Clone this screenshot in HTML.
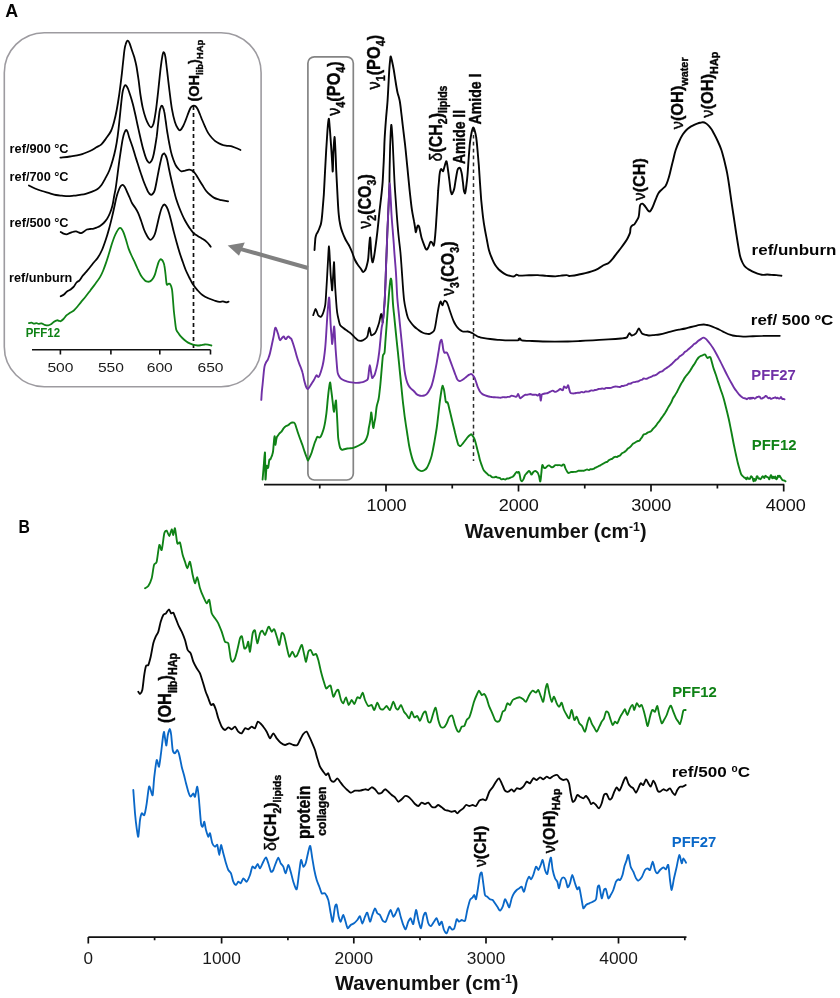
<!DOCTYPE html>
<html><head><meta charset="utf-8"><title>Spectra</title>
<style>
html,body{margin:0;padding:0;background:#fff;}
body{width:840px;height:998px;overflow:hidden;font-family:"Liberation Sans",sans-serif;}
svg{display:block;filter:blur(0.45px);}
svg text{font-family:"Liberation Sans",sans-serif;}
</style></head><body>
<svg width="840" height="998" viewBox="0 0 840 998">
<rect x="0" y="0" width="840" height="998" fill="#ffffff"/>
<rect x="4.3" y="32.7" width="256.8" height="354" rx="40" ry="40" fill="#fff" stroke="#9d9ba0" stroke-width="1.6"/>
<path d="M308 268 L240 248.8" stroke="#808080" stroke-width="4" fill="none"/>
<path d="M227.7 245.4 L244.8 242.4 L239.0 255.8 Z" fill="#808080"/>
<rect x="307.9" y="56.8" width="45.4" height="423.2" rx="6.5" ry="6.5" fill="none" stroke="#848484" stroke-width="1.7"/>
<path d="M193.5 106 L193.5 349" stroke="#111" stroke-width="1.7" stroke-dasharray="4 3" fill="none"/>
<path d="M473.5 128 L473.5 461" stroke="#2a2a2a" stroke-width="1.5" stroke-dasharray="3.7 3.2" fill="none"/>
<path d="M28.9 323.1C29.3 323.0 30.6 322.6 31.5 322.7C32.4 322.8 33.2 323.6 34.0 323.7C34.8 323.8 35.7 323.1 36.5 323.1C37.3 323.1 37.8 323.8 38.6 323.8C39.4 323.9 40.5 323.2 41.5 323.4C42.5 323.6 43.4 324.5 44.5 324.8C45.6 325.1 47.1 325.5 48.2 325.4C49.3 325.3 50.0 324.9 51.0 324.3C52.0 323.7 53.0 322.5 54.0 321.8C55.0 321.1 56.2 320.5 57.0 320.3C57.8 320.1 58.4 320.7 59.0 320.8C59.6 320.9 60.0 321.5 60.7 321.2C61.5 320.9 62.5 320.0 63.5 319.0C64.5 318.0 65.6 316.2 66.7 315.2C67.8 314.2 68.8 313.6 70.0 312.8C71.2 312.0 72.5 311.6 73.8 310.5C75.0 309.4 76.3 307.9 77.5 306.5C78.7 305.1 79.6 303.8 81.0 302.1C82.4 300.4 84.1 298.5 85.7 296.5C87.3 294.5 88.9 292.3 90.5 290.2C92.1 288.1 93.6 286.2 95.2 284.0C96.8 281.8 98.7 279.3 100.0 277.1C101.3 274.9 102.0 273.4 103.0 271.0C104.0 268.6 105.0 265.8 106.0 262.9C107.0 260.0 108.0 256.7 109.0 253.5C110.0 250.3 111.0 246.6 111.9 243.8C112.8 241.1 113.5 239.0 114.3 237.0C115.1 235.0 116.0 233.2 116.7 231.9C117.4 230.6 117.9 229.7 118.5 229.0C119.1 228.3 119.6 227.8 120.2 227.9C120.8 228.0 121.4 228.6 122.0 229.5C122.6 230.4 123.1 231.3 123.8 233.1C124.5 234.9 125.4 237.9 126.2 240.5C127.0 243.1 127.7 246.1 128.6 248.6C129.5 251.1 130.5 253.3 131.5 255.5C132.5 257.7 133.5 259.5 134.5 261.7C135.5 263.9 136.5 266.3 137.5 268.5C138.5 270.7 139.6 273.2 140.5 274.8C141.4 276.4 142.1 277.3 142.9 278.3C143.7 279.3 144.4 280.1 145.2 280.7C146.0 281.3 146.8 281.6 147.6 281.7C148.4 281.8 149.2 281.8 150.0 281.4C150.8 281.0 151.6 280.4 152.4 279.3C153.2 278.2 154.1 276.6 154.8 274.8C155.5 273.0 156.0 270.5 156.6 268.5C157.2 266.5 157.8 264.3 158.3 262.9C158.8 261.5 159.3 260.6 159.8 260.0C160.3 259.4 160.7 259.1 161.2 259.3C161.7 259.5 162.3 260.0 162.8 261.0C163.3 262.0 163.9 263.0 164.3 265.2C164.8 267.4 165.1 270.8 165.5 274.0C165.9 277.2 166.2 282.7 166.7 284.3C167.2 285.9 167.8 283.8 168.4 283.8C169.0 283.8 169.6 283.4 170.2 284.3C170.8 285.2 171.4 286.6 171.9 289.0C172.4 291.4 172.6 295.4 172.9 299.0C173.2 302.6 173.5 306.8 173.8 310.5C174.2 314.2 174.6 317.8 175.0 321.0C175.4 324.2 175.6 327.4 176.2 329.5C176.8 331.6 177.8 332.3 178.6 333.5C179.4 334.7 180.0 335.6 181.0 336.7C182.0 337.8 183.3 339.0 184.5 340.0C185.7 341.0 186.7 341.8 188.1 342.6C189.5 343.4 191.3 344.1 192.9 344.6C194.5 345.1 196.2 345.4 197.6 345.5C199.0 345.6 200.0 345.3 201.2 345.1C202.4 344.9 203.7 344.6 204.8 344.5C205.9 344.4 206.9 344.5 208.0 344.7C209.1 344.9 210.8 345.4 211.4 345.5" fill="none" stroke="#0f8216" stroke-width="1.8" stroke-linejoin="round" stroke-linecap="round" />
<path d="M60.7 296.2C61.2 295.9 63.0 295.3 64.0 294.5C65.0 293.7 65.9 292.3 67.0 291.5C68.1 290.7 69.4 290.3 70.5 289.5C71.6 288.7 72.8 287.9 73.8 286.7C74.8 285.5 75.5 283.6 76.5 282.5C77.5 281.4 78.5 281.4 79.5 280.3C80.5 279.2 81.5 277.3 82.5 276.0C83.5 274.7 84.6 273.6 85.7 272.4C86.8 271.1 88.0 269.7 89.0 268.5C90.0 267.3 90.7 266.5 91.6 265.3C92.5 264.1 93.6 262.7 94.6 261.5C95.6 260.3 96.4 260.0 97.6 258.1C98.8 256.2 100.6 253.2 102.0 250.0C103.4 246.8 104.8 242.5 106.0 239.0C107.2 235.5 108.0 232.6 109.0 229.0C110.0 225.4 111.0 221.3 111.9 217.6C112.8 213.9 113.5 210.6 114.3 207.0C115.1 203.4 115.9 199.1 116.7 196.2C117.5 193.3 118.3 191.2 119.0 189.5C119.7 187.8 120.2 186.8 120.8 186.0C121.4 185.2 122.0 184.7 122.6 184.8C123.2 184.9 123.9 185.7 124.5 186.5C125.1 187.3 125.7 188.8 126.2 189.8C126.7 190.8 126.8 191.2 127.4 192.6C128.0 194.0 129.0 196.2 129.8 198.0C130.6 199.8 131.2 201.7 132.1 203.3C133.0 204.9 134.0 205.9 135.0 207.5C136.0 209.1 137.1 210.7 138.1 212.9C139.1 215.1 140.0 217.7 141.0 220.5C142.0 223.3 143.0 226.9 144.0 229.5C145.0 232.1 146.0 234.1 147.0 235.8C148.0 237.5 149.1 239.4 150.0 239.8C150.9 240.2 151.6 239.4 152.4 238.5C153.2 237.6 154.0 236.5 154.8 234.3C155.6 232.1 156.3 228.7 157.1 225.5C157.9 222.3 158.7 218.2 159.5 215.2C160.3 212.2 161.1 209.3 161.9 207.5C162.7 205.7 163.5 204.6 164.3 204.5C165.1 204.4 165.9 205.6 166.7 207.0C167.5 208.4 168.2 210.4 169.0 212.9C169.8 215.4 170.6 218.8 171.4 222.0C172.2 225.2 172.9 228.4 173.8 231.9C174.7 235.4 175.8 239.4 176.8 243.0C177.8 246.6 178.8 250.1 179.8 253.3C180.8 256.5 181.8 259.2 182.8 262.0C183.8 264.8 184.6 267.4 185.7 270.0C186.8 272.6 188.1 275.1 189.3 277.5C190.5 279.9 191.5 282.2 192.9 284.3C194.3 286.4 196.0 288.5 197.6 290.3C199.2 292.1 200.6 293.7 202.4 295.0C204.2 296.3 206.3 297.4 208.3 298.3C210.3 299.2 212.4 299.9 214.3 300.5C216.2 301.1 218.1 301.8 219.5 301.9C220.9 302.0 221.9 301.2 223.0 301.3C224.1 301.4 225.1 302.2 226.0 302.3C226.9 302.4 228.2 301.8 228.6 301.7" fill="none" stroke="#050505" stroke-width="1.8" stroke-linejoin="round" stroke-linecap="round" />
<path d="M60.7 231.9C61.2 232.2 62.5 233.2 63.5 233.6C64.5 234.0 65.8 234.3 66.7 234.3C67.6 234.3 68.2 233.7 69.0 233.4C69.8 233.1 70.6 232.7 71.4 232.4C72.2 232.1 73.2 231.8 74.0 231.6C74.8 231.4 75.4 231.3 76.2 231.4C77.0 231.5 77.8 232.1 78.6 232.4C79.4 232.7 80.1 233.2 81.0 233.1C81.9 232.9 83.0 232.1 84.0 231.5C85.0 230.9 85.9 229.9 86.9 229.5C87.9 229.1 89.0 229.1 90.0 229.0C91.0 228.9 91.8 229.0 92.9 228.8C94.0 228.6 95.3 228.1 96.5 227.6C97.7 227.1 98.8 226.8 100.0 226.0C101.2 225.2 102.5 224.2 103.7 223.0C104.9 221.8 106.0 220.5 107.1 218.8C108.1 217.1 109.1 215.2 110.0 213.0C110.9 210.8 111.7 208.4 112.4 205.7C113.1 203.0 113.5 199.9 114.0 197.0C114.5 194.1 115.1 191.9 115.7 188.1C116.3 184.3 117.0 178.8 117.6 174.0C118.2 169.2 118.9 163.8 119.5 159.5C120.1 155.2 120.7 151.5 121.2 148.0C121.8 144.5 122.2 141.2 122.8 138.6C123.3 136.0 123.9 133.9 124.5 132.5C125.1 131.1 125.7 130.1 126.2 130.0C126.7 129.9 127.1 130.9 127.6 132.0C128.1 133.1 128.4 134.9 129.0 136.7C129.6 138.4 130.3 140.6 131.0 142.5C131.7 144.4 132.2 145.9 132.9 148.1C133.6 150.3 134.4 153.2 135.2 155.7C136.0 158.2 136.7 160.6 137.6 163.3C138.5 166.0 139.4 169.1 140.4 172.0C141.4 174.9 142.4 178.1 143.3 180.5C144.2 182.9 144.9 184.6 145.7 186.5C146.5 188.4 147.4 190.7 148.1 191.9C148.8 193.2 149.3 193.5 149.8 194.0C150.3 194.5 150.8 194.9 151.3 194.8C151.9 194.7 152.5 194.2 153.1 193.4C153.7 192.6 154.2 192.1 154.8 190.0C155.4 187.9 156.1 184.2 156.7 181.0C157.3 177.8 158.0 174.0 158.6 171.0C159.2 168.0 159.7 165.4 160.3 162.8C160.9 160.2 161.5 157.2 162.0 155.7C162.5 154.2 162.8 154.4 163.2 154.0C163.6 153.6 163.9 153.2 164.3 153.4C164.7 153.7 165.2 154.5 165.7 155.5C166.2 156.5 166.5 157.2 167.1 159.5C167.7 161.8 168.3 165.6 169.0 169.0C169.7 172.4 170.6 176.5 171.4 180.0C172.2 183.5 173.0 186.8 173.8 190.0C174.6 193.2 175.3 196.2 176.2 199.0C177.1 201.8 178.0 204.4 179.0 207.0C180.0 209.6 181.1 212.2 182.1 214.5C183.1 216.8 184.0 218.6 185.0 220.5C186.0 222.4 187.2 224.3 188.1 225.8C189.0 227.3 189.7 228.2 190.5 229.3C191.3 230.4 192.0 231.5 192.9 232.4C193.8 233.3 194.8 234.1 195.8 234.8C196.8 235.5 197.8 236.1 198.8 236.7C199.8 237.3 200.8 237.8 201.8 238.4C202.8 239.0 203.8 239.4 204.8 240.2C205.8 241.0 206.8 241.9 207.8 243.0C208.8 244.1 210.2 246.1 210.7 246.7" fill="none" stroke="#050505" stroke-width="1.8" stroke-linejoin="round" stroke-linecap="round" />
<path d="M28.9 185.5C29.9 186.0 32.8 187.6 35.0 188.5C37.2 189.4 39.5 190.2 42.0 191.0C44.5 191.8 47.7 192.6 50.0 193.3C52.3 194.0 54.0 194.6 56.0 195.0C58.0 195.4 59.9 195.5 61.9 195.7C63.9 195.9 66.0 196.2 68.0 196.2C70.0 196.2 71.8 195.9 73.8 195.7C75.8 195.5 78.0 195.1 80.0 194.8C82.0 194.5 83.8 194.3 85.7 193.8C87.6 193.3 89.5 192.7 91.5 191.9C93.5 191.1 95.9 190.2 97.6 189.0C99.3 187.8 100.2 186.7 101.5 185.0C102.8 183.3 103.9 181.0 105.2 178.6C106.5 176.2 108.0 173.7 109.3 170.5C110.6 167.3 111.9 163.1 112.9 159.5C113.9 155.9 114.7 152.8 115.5 149.0C116.3 145.2 117.0 141.2 117.6 136.7C118.2 132.2 118.8 127.1 119.3 122.0C119.8 116.9 120.5 110.2 120.9 106.2C121.3 102.2 121.5 100.5 121.8 98.0C122.1 95.5 122.4 92.8 122.8 91.0C123.2 89.2 123.6 88.0 124.0 87.0C124.4 86.0 124.8 85.3 125.2 85.2C125.7 85.1 126.2 85.7 126.7 86.3C127.2 86.9 127.5 87.4 128.1 89.0C128.7 90.6 129.7 93.5 130.5 96.0C131.3 98.5 132.1 101.2 132.9 104.3C133.7 107.4 134.5 111.0 135.3 114.5C136.1 118.0 136.8 121.6 137.6 125.2C138.4 128.8 139.2 132.5 140.0 136.0C140.8 139.5 141.7 143.4 142.4 146.2C143.1 149.0 143.7 150.9 144.3 153.0C144.9 155.1 145.6 157.2 146.2 158.6C146.8 160.0 147.3 160.8 147.8 161.5C148.3 162.2 148.8 162.8 149.4 162.8C150.0 162.8 150.6 162.2 151.2 161.3C151.8 160.4 152.3 159.7 152.9 157.6C153.5 155.5 154.2 152.0 154.8 148.5C155.4 145.0 156.1 140.8 156.7 136.7C157.2 132.6 157.6 128.1 158.1 124.0C158.6 119.9 159.1 114.7 159.5 111.9C159.9 109.1 160.3 108.3 160.7 107.3C161.1 106.2 161.4 105.6 161.8 105.6C162.2 105.6 162.6 106.2 163.0 107.3C163.4 108.3 163.9 109.6 164.3 111.9C164.8 114.2 165.2 117.8 165.7 121.0C166.2 124.2 166.5 127.5 167.1 131.0C167.7 134.5 168.3 138.5 169.0 142.0C169.7 145.5 170.3 149.0 171.0 151.9C171.7 154.8 172.5 157.3 173.3 159.5C174.1 161.7 174.8 163.6 175.7 165.2C176.6 166.8 177.6 168.0 178.5 169.0C179.4 170.0 180.3 171.0 181.4 171.3C182.5 171.6 183.9 170.9 185.2 170.6C186.5 170.3 187.9 169.7 189.0 169.6C190.1 169.5 190.7 169.8 191.5 170.2C192.3 170.6 192.9 171.0 193.8 171.9C194.7 172.8 195.8 174.3 196.7 175.7C197.6 177.1 198.5 178.8 199.5 180.5C200.5 182.2 201.7 184.1 202.8 185.8C203.9 187.6 205.0 189.5 206.2 191.0C207.4 192.5 208.7 193.7 210.0 194.8C211.3 195.9 212.5 196.9 213.8 197.6C215.1 198.3 216.3 198.8 217.6 199.2C218.9 199.6 219.7 199.7 221.4 200.1C223.2 200.5 227.0 201.2 228.1 201.4" fill="none" stroke="#050505" stroke-width="1.8" stroke-linejoin="round" stroke-linecap="round" />
<path d="M60.4 157.6C62.0 157.4 66.7 157.0 70.0 156.5C73.3 156.0 77.1 155.6 80.4 154.7C83.7 153.8 87.3 152.2 90.0 151.0C92.7 149.8 94.5 148.4 96.4 147.3C98.3 146.2 99.8 145.8 101.4 144.3C103.0 142.8 104.4 140.7 106.0 138.5C107.6 136.3 109.7 133.8 111.0 131.0C112.3 128.2 113.0 125.5 114.0 122.0C115.0 118.5 115.9 114.3 116.7 110.0C117.5 105.7 118.2 101.4 119.0 96.0C119.8 90.6 120.7 83.1 121.4 77.6C122.1 72.1 122.5 67.4 123.0 63.0C123.5 58.6 123.9 54.1 124.3 51.0C124.7 47.9 125.0 46.2 125.6 44.5C126.1 42.8 126.9 40.8 127.6 40.6C128.3 40.4 128.9 41.6 129.6 43.3C130.3 44.9 131.2 48.1 132.0 50.5C132.8 52.9 133.7 55.0 134.4 57.6C135.1 60.2 135.7 62.2 136.4 66.0C137.1 69.8 137.9 75.5 138.6 80.2C139.3 85.0 139.7 89.9 140.4 94.5C141.1 99.1 141.8 103.6 142.7 107.6C143.6 111.6 144.7 115.4 145.7 118.3C146.7 121.2 147.8 123.4 148.7 124.9C149.6 126.4 150.3 127.5 151.1 127.3C151.9 127.1 152.7 126.4 153.5 123.7C154.3 121.0 155.0 116.7 155.8 111.2C156.6 105.8 157.4 98.2 158.2 91.0C159.0 83.8 159.9 74.2 160.6 68.3C161.3 62.4 161.9 58.5 162.4 55.8C162.9 53.1 163.3 52.1 163.8 52.3C164.3 52.5 164.9 53.9 165.4 57.0C165.9 60.1 166.4 65.0 167.1 70.7C167.8 76.4 168.7 84.7 169.5 91.0C170.3 97.3 171.0 103.6 171.9 108.8C172.8 114.0 173.9 118.6 174.9 121.9C175.9 125.2 177.0 127.1 177.9 128.5C178.8 129.9 179.3 130.6 180.2 130.2C181.1 129.8 182.4 127.5 183.2 126.0C184.0 124.5 184.5 123.2 185.2 121.4C185.9 119.6 186.8 117.1 187.6 115.0C188.4 112.9 189.3 110.5 190.0 109.0C190.7 107.5 191.4 106.9 192.0 106.3C192.6 105.7 193.2 105.6 193.8 105.6C194.4 105.6 195.2 105.9 195.8 106.5C196.4 107.1 196.9 107.7 197.6 109.0C198.3 110.3 199.2 112.6 200.0 114.5C200.8 116.4 201.5 118.4 202.4 120.5C203.3 122.6 204.2 124.9 205.2 127.0C206.1 129.1 207.0 131.1 208.1 132.9C209.2 134.7 210.7 136.6 212.0 138.0C213.3 139.4 214.4 140.5 215.7 141.4C216.9 142.3 218.2 143.0 219.5 143.6C220.8 144.2 222.1 144.8 223.3 145.2C224.6 145.6 225.7 145.6 227.0 145.8C228.3 146.0 229.5 145.8 231.0 146.2C232.5 146.6 234.4 147.4 236.0 148.0C237.6 148.6 239.8 149.7 240.5 150.0" fill="none" stroke="#050505" stroke-width="1.8" stroke-linejoin="round" stroke-linecap="round" />
<path d="M32 349.8 H210.5 M60.4 349.8 V354.6 M110.9 349.8 V354.6 M159.8 349.8 V354.6 M210.5 349.8 V354.6" stroke="#111" stroke-width="1.6" fill="none"/>
<text x="60.4" y="372.2" font-size="13.5" fill="#1a1a1a"  text-anchor="middle" textLength="26.0" lengthAdjust="spacingAndGlyphs">500</text>
<text x="110.9" y="372.2" font-size="13.5" fill="#1a1a1a"  text-anchor="middle" textLength="26.0" lengthAdjust="spacingAndGlyphs">550</text>
<text x="159.8" y="372.2" font-size="13.5" fill="#1a1a1a"  text-anchor="middle" textLength="26.0" lengthAdjust="spacingAndGlyphs">600</text>
<text x="210.5" y="372.2" font-size="13.5" fill="#1a1a1a"  text-anchor="middle" textLength="26.0" lengthAdjust="spacingAndGlyphs">650</text>
<text x="9.6" y="152.8" font-size="12.3" fill="#050505" font-weight="bold" text-anchor="start" textLength="59.0" lengthAdjust="spacingAndGlyphs">ref/900 &#176;C</text>
<text x="9.6" y="180.8" font-size="12.3" fill="#050505" font-weight="bold" text-anchor="start" textLength="59.0" lengthAdjust="spacingAndGlyphs">ref/700 &#176;C</text>
<text x="9.6" y="226.8" font-size="12.3" fill="#050505" font-weight="bold" text-anchor="start" textLength="59.0" lengthAdjust="spacingAndGlyphs">ref/500 &#176;C</text>
<text x="9.0" y="281.7" font-size="12.3" fill="#050505" font-weight="bold" text-anchor="start" textLength="63.3" lengthAdjust="spacingAndGlyphs">ref/unburn</text>
<text x="25.7" y="336.6" font-size="12" fill="#0f8216" font-weight="bold" text-anchor="start" textLength="34.4" lengthAdjust="spacingAndGlyphs">PFF12</text>
<path d="M262.6 479.5C262.8 477.5 263.2 472.1 263.6 467.6C264.0 463.1 264.6 452.8 264.9 452.4C265.2 452.0 265.1 460.5 265.2 465.0C265.3 469.5 265.3 478.5 265.5 479.5C265.7 480.5 266.0 473.3 266.2 471.0C266.4 468.7 266.6 466.2 266.8 465.7C267.0 465.2 267.4 467.7 267.6 467.9C267.9 468.1 268.0 468.3 268.3 467.0C268.6 465.7 269.0 461.2 269.3 460.0C269.6 458.8 270.0 459.9 270.3 459.5C270.6 459.1 270.9 458.2 271.2 457.5C271.5 456.8 271.9 456.1 272.2 455.0C272.5 453.9 272.8 453.2 273.1 451.0C273.4 448.8 273.6 444.5 273.9 442.0C274.1 439.5 274.4 436.4 274.6 436.2C274.8 436.0 275.0 439.6 275.1 441.0C275.2 442.4 275.3 445.0 275.5 444.8C275.7 444.6 276.0 441.3 276.2 440.0C276.4 438.7 276.7 437.8 276.9 437.1C277.1 436.4 277.2 436.6 277.6 436.0C278.0 435.4 278.9 434.0 279.5 433.3C280.1 432.6 280.7 432.6 281.3 431.8C281.9 431.1 282.6 429.8 283.2 428.9C283.8 428.1 284.5 427.3 285.1 426.8C285.7 426.2 286.4 426.0 287.0 425.7C287.6 425.3 288.2 425.2 288.8 424.7C289.4 424.2 290.1 423.3 290.7 423.0C291.3 422.6 292.1 422.5 292.6 422.4C293.1 422.4 293.5 422.4 293.9 422.6C294.3 422.9 294.6 422.8 295.1 424.0C295.6 425.2 296.4 427.9 297.0 429.8C297.6 431.8 298.3 433.7 298.9 435.5C299.5 437.3 300.2 439.1 300.8 440.7C301.4 442.4 302.0 443.7 302.6 445.5C303.2 447.3 303.9 449.6 304.5 451.4C305.1 453.2 305.9 455.3 306.4 456.6C306.9 457.8 307.0 458.4 307.3 459.0C307.6 459.6 307.7 460.7 308.1 460.4C308.5 460.0 309.2 458.2 309.8 457.0C310.4 455.8 310.9 454.8 311.4 453.3C311.9 451.8 312.4 449.9 313.0 448.1C313.6 446.4 314.2 444.1 314.7 442.7C315.2 441.3 315.6 440.7 316.0 439.7C316.4 438.7 316.8 437.3 317.2 436.9C317.6 436.5 318.2 437.2 318.7 437.3C319.2 437.3 319.6 437.8 320.2 437.2C320.8 436.6 321.4 435.3 322.0 433.8C322.6 432.2 323.4 430.0 323.9 428.0C324.4 426.0 324.8 424.1 325.2 421.7C325.6 419.2 326.0 416.3 326.4 413.3C326.8 410.2 327.1 406.5 327.4 403.1C327.7 399.8 328.1 396.0 328.4 393.2C328.7 390.4 329.0 388.2 329.3 386.4C329.6 384.6 329.9 382.1 330.2 382.4C330.5 382.7 330.7 386.3 331.0 388.5C331.3 390.7 331.6 392.8 331.9 395.4C332.2 398.0 332.6 401.3 332.9 404.0C333.2 406.7 333.5 411.4 333.9 411.7C334.2 411.9 334.6 407.4 335.0 405.5C335.4 403.6 335.8 400.0 336.0 400.4C336.2 400.8 336.3 405.5 336.5 408.0C336.7 410.5 336.8 412.3 337.0 415.5C337.2 418.7 337.4 423.2 337.6 427.0C337.8 430.8 337.9 435.2 338.2 438.0C338.5 440.8 338.9 442.3 339.2 444.0C339.5 445.7 339.7 447.0 340.2 448.0C340.7 449.0 341.5 449.6 342.1 449.8C342.7 450.0 343.1 449.5 344.0 449.3C344.9 449.1 346.1 448.7 347.2 448.5C348.2 448.3 349.2 448.4 350.3 448.3C351.4 448.2 352.8 448.0 354.0 447.6C355.2 447.2 356.6 446.6 357.8 446.0C359.0 445.4 360.0 444.9 361.0 444.3C362.0 443.7 363.2 443.1 364.0 442.3C364.8 441.5 365.4 440.8 366.0 439.5C366.6 438.2 367.3 436.4 367.8 434.5C368.3 432.6 368.5 429.9 368.8 428.0C369.1 426.1 369.5 424.8 369.8 423.0C370.1 421.2 370.4 419.2 370.6 417.5C370.9 415.8 371.0 412.0 371.3 412.5C371.6 413.0 372.0 417.9 372.3 420.5C372.6 423.1 373.0 427.6 373.3 428.0C373.6 428.4 374.0 424.7 374.3 423.0C374.6 421.3 374.9 420.7 375.3 418.0C375.7 415.3 376.1 410.0 376.6 407.0C377.1 404.0 378.0 402.0 378.4 400.0C378.8 398.0 378.9 397.7 379.2 395.0C379.5 392.3 380.0 388.1 380.4 384.0C380.8 379.9 381.2 374.7 381.6 370.1C382.0 365.5 382.5 359.1 382.8 356.5C383.1 353.9 383.3 355.0 383.6 354.3C383.9 353.6 384.3 354.5 384.6 352.1C384.9 349.7 385.2 344.0 385.5 340.0C385.8 336.0 386.1 332.1 386.4 328.1C386.7 324.1 387.0 320.0 387.3 316.0C387.6 312.0 387.8 308.7 388.2 304.0C388.6 299.3 389.1 291.9 389.5 288.0C389.9 284.1 390.1 282.1 390.3 280.5C390.5 278.9 390.7 278.4 390.9 278.4C391.1 278.4 391.3 278.6 391.5 280.5C391.7 282.4 391.9 286.1 392.2 290.0C392.4 293.9 392.7 299.7 393.0 304.0C393.3 308.3 393.8 312.0 394.2 316.0C394.6 320.0 395.0 324.1 395.4 328.1C395.8 332.1 396.2 336.0 396.6 340.0C397.0 344.0 397.5 348.1 397.9 352.1C398.3 356.1 398.7 360.0 399.1 364.0C399.5 368.0 399.9 372.2 400.3 376.2C400.7 380.2 401.1 384.0 401.5 388.0C401.9 392.0 402.3 396.2 402.7 400.0C403.1 403.8 403.6 407.4 404.0 411.0C404.4 414.6 404.8 417.7 405.4 421.5C405.9 425.3 406.7 430.0 407.3 434.0C407.9 438.0 408.5 442.2 409.1 445.5C409.7 448.8 410.4 451.5 411.0 454.0C411.6 456.5 412.3 458.8 412.9 460.6C413.5 462.4 414.2 463.8 414.8 465.0C415.4 466.2 416.0 467.2 416.7 468.1C417.4 469.0 418.4 469.7 419.2 470.2C420.0 470.7 420.9 471.1 421.7 471.1C422.5 471.1 423.4 470.7 424.2 470.2C425.0 469.7 425.9 469.3 426.7 468.1C427.5 466.9 428.4 465.1 429.2 463.0C430.0 460.9 430.9 458.9 431.7 455.6C432.5 452.3 433.4 447.6 434.2 443.0C435.0 438.4 436.0 432.8 436.7 428.0C437.4 423.2 437.8 418.6 438.4 414.0C438.9 409.4 439.5 404.1 440.0 400.4C440.5 396.6 440.9 393.9 441.3 391.5C441.7 389.1 442.2 386.6 442.5 385.9C442.8 385.2 443.0 386.8 443.3 387.5C443.6 388.2 443.8 388.9 444.1 390.4C444.4 391.9 444.7 394.6 445.0 396.5C445.3 398.4 445.5 400.7 445.8 401.7C446.1 402.7 446.5 402.3 446.8 402.5C447.1 402.7 447.3 401.6 447.8 402.9C448.3 404.1 449.0 407.5 449.6 410.0C450.2 412.5 450.9 415.4 451.5 418.0C452.1 420.6 452.7 423.0 453.3 425.5C453.9 428.0 454.6 430.8 455.1 433.0C455.7 435.2 456.1 437.1 456.6 439.0C457.1 440.9 457.7 443.2 458.1 444.3C458.6 445.4 458.9 445.3 459.3 445.6C459.7 445.9 460.0 446.4 460.6 446.0C461.2 445.6 462.1 444.4 462.8 443.5C463.6 442.6 464.4 441.4 465.1 440.5C465.8 439.6 466.4 438.8 467.0 438.0C467.6 437.2 468.3 436.5 468.8 436.0C469.3 435.5 469.7 435.2 470.1 434.9C470.5 434.6 470.9 434.1 471.4 434.3C471.9 434.5 472.5 435.5 473.0 436.3C473.5 437.1 474.1 437.9 474.6 439.3C475.1 440.7 475.6 442.6 476.1 444.5C476.6 446.4 477.1 448.8 477.6 450.6C478.1 452.4 478.5 453.8 478.9 455.5C479.3 457.2 479.6 458.9 480.1 460.6C480.6 462.4 481.4 464.3 482.0 466.0C482.6 467.7 483.1 469.3 483.9 470.6C484.7 471.9 486.2 472.8 487.0 473.6C487.8 474.4 488.1 474.9 488.6 475.2C489.1 475.5 489.6 475.2 490.2 475.5C490.8 475.9 491.5 476.9 492.1 477.2C492.7 477.5 493.4 477.4 494.0 477.4C494.6 477.3 495.2 476.7 495.9 476.7C496.5 476.8 497.1 477.5 497.7 477.7C498.3 477.9 499.0 477.7 499.6 477.9C500.2 478.2 500.9 479.2 501.5 479.4C502.1 479.5 502.7 479.0 503.4 479.0C504.0 479.0 504.6 479.6 505.2 479.5C505.8 479.4 506.5 478.7 507.1 478.5C507.7 478.3 508.4 478.6 509.0 478.4C509.6 478.2 510.2 477.7 510.9 477.4C511.5 477.1 512.1 477.2 512.7 476.8C513.3 476.3 514.0 475.4 514.6 474.6C515.2 473.8 516.0 472.3 516.5 472.0C517.0 471.7 517.4 472.7 517.8 472.7C518.2 472.7 518.6 471.5 519.0 472.1C519.4 472.6 519.6 474.6 519.9 475.9C520.2 477.2 520.4 478.9 520.7 479.8C521.1 480.7 521.5 481.4 522.0 481.3C522.5 481.2 523.0 480.2 523.5 479.2C524.0 478.1 524.5 476.1 525.0 475.2C525.5 474.2 526.0 474.0 526.5 473.5C527.0 472.9 527.4 472.4 527.8 472.0C528.2 471.6 528.6 470.9 529.0 471.0C529.4 471.1 529.9 471.8 530.3 472.4C530.7 473.0 531.0 474.7 531.5 474.6C532.0 474.6 532.8 472.6 533.4 472.0C534.0 471.4 534.8 471.0 535.3 470.9C535.8 470.9 536.1 471.3 536.5 471.7C536.9 472.0 537.4 472.2 537.8 472.9C538.2 473.6 538.6 474.7 539.0 476.1C539.4 477.5 539.9 481.8 540.3 481.4C540.7 480.9 541.0 476.2 541.3 473.5C541.6 470.8 541.9 466.2 542.3 465.2C542.7 464.2 543.3 467.0 543.8 467.5C544.3 468.0 544.7 468.2 545.3 468.0C545.9 467.8 546.6 466.6 547.2 466.2C547.8 465.7 548.4 465.3 549.0 465.4C549.6 465.5 550.3 466.5 550.9 466.8C551.5 467.1 552.1 467.4 552.8 467.2C553.5 466.9 554.5 465.6 555.3 465.2C556.1 464.9 557.1 465.2 557.8 465.2C558.5 465.2 559.1 465.0 559.7 465.1C560.3 465.2 561.1 465.9 561.6 465.8C562.1 465.7 562.5 464.8 562.9 464.6C563.3 464.4 563.7 464.1 564.1 464.7C564.5 465.2 564.9 467.0 565.3 468.0C565.7 469.0 566.2 469.9 566.6 470.6C567.0 471.4 567.4 472.1 567.8 472.5C568.2 472.9 568.6 473.0 569.1 472.9C569.6 472.8 570.4 472.1 571.0 472.0C571.6 471.8 572.0 472.1 572.9 472.0C573.8 471.9 575.7 471.8 576.6 471.6C577.5 471.4 577.9 470.9 578.5 470.7C579.1 470.6 579.8 470.8 580.4 470.8C581.0 470.8 581.5 470.7 582.1 470.7C582.6 470.6 583.2 470.8 583.7 470.7C584.3 470.6 584.8 470.3 585.4 470.1C586.0 469.9 586.5 469.4 587.1 469.4C587.6 469.4 588.2 470.1 588.7 470.1C589.3 470.0 589.8 469.3 590.4 469.2C591.0 469.1 591.5 469.4 592.1 469.4C592.6 469.3 593.2 469.0 593.7 468.8C594.3 468.5 594.8 468.0 595.4 467.7C596.0 467.4 596.5 467.2 597.1 466.9C597.6 466.6 598.2 466.4 598.7 466.1C599.3 465.8 599.8 465.6 600.4 465.3C601.0 465.0 601.5 464.7 602.1 464.3C602.7 464.0 603.2 463.6 603.8 463.3C604.4 462.9 604.9 462.5 605.5 462.3C606.1 462.0 606.6 462.1 607.2 461.8C607.7 461.4 608.3 460.7 608.8 460.3C609.4 459.9 609.9 459.5 610.5 459.3C611.1 459.0 611.6 459.1 612.2 458.8C612.7 458.5 613.3 457.7 613.8 457.4C614.4 457.1 615.0 456.8 615.5 456.8C616.0 456.7 616.5 457.1 617.0 457.0C617.5 456.9 618.0 456.2 618.5 456.0C619.0 455.7 619.4 456.0 620.0 455.5C620.6 455.1 621.3 453.9 622.0 453.3C622.7 452.8 623.3 452.7 624.0 452.2C624.7 451.8 625.3 451.3 626.0 450.7C626.6 450.1 627.3 449.1 627.9 448.6C628.5 448.1 629.0 447.9 629.5 447.5C630.1 447.0 630.7 446.5 631.2 445.9C631.7 445.3 632.3 444.3 632.8 443.8C633.3 443.3 633.7 443.4 634.4 443.0C635.1 442.6 636.1 441.8 637.0 441.4C637.9 441.0 638.9 440.9 639.6 440.4C640.3 439.9 640.5 439.1 641.0 438.5C641.5 437.9 641.9 437.4 642.3 436.7C642.7 436.1 643.0 435.1 643.6 434.6C644.2 434.1 645.5 434.1 646.2 433.7C646.9 433.3 647.3 432.7 647.9 432.4C648.4 432.1 649.0 432.1 649.5 431.9C650.0 431.7 650.6 431.6 651.1 431.1C651.6 430.6 652.2 429.8 652.7 429.2C653.2 428.5 653.8 428.0 654.4 427.4C654.9 426.8 655.5 426.3 656.0 425.7C656.5 425.0 657.1 424.0 657.6 423.3C658.2 422.6 658.7 422.1 659.3 421.3C659.9 420.5 660.6 419.3 661.2 418.4C661.9 417.4 662.6 416.6 663.2 415.7C663.9 414.8 664.5 413.9 665.2 412.8C665.8 411.8 666.5 410.6 667.1 409.5C667.8 408.3 668.4 407.1 669.0 406.0C669.7 404.8 670.3 404.0 671.0 402.8C671.7 401.5 672.3 399.6 673.0 398.3C673.7 397.1 674.3 396.3 675.0 395.2C675.7 394.2 676.3 393.1 677.0 391.9C677.7 390.7 678.3 389.2 679.0 387.9C679.7 386.6 680.3 385.2 681.0 384.1C681.6 382.9 682.3 382.0 682.9 381.0C683.5 380.0 684.0 378.9 684.5 378.1C685.1 377.2 685.7 376.5 686.2 375.8C686.7 375.1 687.3 374.4 687.8 373.8C688.3 373.1 688.7 372.9 689.4 371.8C690.1 370.8 691.1 368.9 692.0 367.6C692.9 366.2 693.8 364.9 694.6 363.7C695.4 362.5 695.9 361.3 696.6 360.3C697.3 359.3 697.9 358.2 698.6 357.5C699.3 356.8 700.0 356.4 700.6 356.0C701.2 355.6 702.0 355.6 702.5 355.4C703.0 355.2 703.4 354.7 703.8 354.6C704.2 354.5 704.7 354.3 705.1 354.6C705.5 354.9 706.0 355.9 706.4 356.5C706.8 357.1 707.3 357.9 707.7 358.0C708.1 358.1 708.5 357.3 709.0 357.2C709.5 357.1 709.9 356.6 710.4 357.3C710.9 358.0 711.3 360.0 711.7 361.5C712.1 363.0 712.4 364.3 713.0 366.4C713.6 368.5 714.7 371.4 715.6 374.0C716.5 376.6 717.3 379.4 718.2 382.1C719.1 384.8 719.9 387.4 720.8 390.0C721.7 392.6 722.6 394.9 723.5 397.9C724.4 400.9 725.2 404.5 726.1 408.0C727.0 411.5 727.8 414.9 728.7 418.8C729.6 422.7 730.4 427.1 731.3 431.5C732.2 435.9 733.1 441.2 733.9 445.0C734.7 448.8 735.2 451.4 735.9 454.5C736.6 457.6 737.3 460.9 737.9 463.3C738.5 465.7 739.0 467.2 739.5 469.0C740.0 470.8 740.5 472.6 741.0 473.8C741.5 475.0 742.1 475.6 742.7 476.2C743.3 476.8 744.0 477.4 744.4 477.7C744.8 478.0 745.1 477.6 745.4 477.9C745.7 478.2 746.1 479.4 746.4 479.3C746.7 479.2 747.0 477.6 747.3 477.5C747.7 477.4 748.0 478.5 748.3 478.7C748.6 478.9 748.9 478.7 749.2 478.7C749.5 478.8 749.7 479.2 750.0 478.8C750.3 478.4 750.6 476.6 750.9 476.3C751.2 476.0 751.5 476.6 751.8 476.9C752.1 477.2 752.3 477.3 752.6 478.0C752.9 478.7 753.2 481.0 753.5 481.2C753.8 481.3 754.0 479.1 754.3 479.0C754.6 478.9 754.8 480.5 755.1 480.6C755.4 480.8 755.6 480.6 755.9 479.9C756.2 479.2 756.4 477.1 756.7 476.5C757.0 475.9 757.2 476.1 757.5 476.5C757.8 476.8 758.1 478.2 758.5 478.5C758.8 478.8 759.1 478.1 759.5 478.3C759.8 478.4 760.1 479.3 760.4 479.3C760.8 479.3 761.1 478.7 761.4 478.2C761.7 477.7 762.0 476.8 762.4 476.5C762.7 476.2 763.0 476.3 763.3 476.6C763.7 476.9 764.0 478.2 764.3 478.1C764.6 478.0 765.0 476.3 765.3 475.9C765.6 475.6 765.8 476.0 766.1 476.2C766.4 476.4 766.6 476.7 766.9 476.9C767.2 477.1 767.4 477.2 767.7 477.3C768.0 477.5 768.2 477.4 768.5 477.7C768.8 478.1 769.0 479.5 769.3 479.3C769.6 479.1 769.9 477.2 770.3 476.5C770.6 475.8 770.9 474.9 771.2 475.2C771.6 475.5 771.9 478.1 772.2 478.3C772.6 478.6 772.9 476.7 773.2 476.7C773.5 476.7 773.9 478.3 774.2 478.3C774.5 478.3 774.8 476.4 775.2 476.5C775.5 476.7 775.8 478.7 776.1 479.1C776.5 479.4 776.8 479.1 777.1 478.6C777.4 478.0 777.7 476.0 778.0 475.7C778.3 475.5 778.6 476.9 778.9 476.9C779.2 477.0 779.5 475.7 779.8 475.8C780.1 475.9 780.4 477.0 780.7 477.5C781.0 478.0 781.2 478.3 781.5 478.7C781.8 479.1 782.1 479.7 782.4 480.0C782.7 480.3 783.1 480.3 783.4 480.4C783.8 480.5 784.1 480.3 784.5 480.5C784.8 480.7 785.3 481.2 785.5 481.3" fill="none" stroke="#0f8216" stroke-width="1.9" stroke-linejoin="round" stroke-linecap="round" />
<path d="M313.2 315.2C313.4 314.6 314.1 312.5 314.5 311.5C314.9 310.5 315.3 308.9 315.7 309.0C316.1 309.1 316.6 311.0 317.0 312.0C317.4 313.0 317.7 314.4 318.2 315.2C318.7 315.9 319.3 316.3 319.8 316.5C320.3 316.7 320.8 317.2 321.4 316.5C322.0 315.8 322.7 314.4 323.3 312.5C323.9 310.6 324.7 308.6 325.2 305.2C325.7 301.8 325.9 297.0 326.2 292.0C326.5 287.0 326.9 280.6 327.2 275.1C327.5 269.6 327.8 263.8 328.1 259.0C328.4 254.2 328.7 246.1 329.0 246.3C329.3 246.5 329.6 255.2 329.9 260.0C330.2 264.8 330.4 271.1 330.7 275.1C331.0 279.1 331.2 281.5 331.5 284.0C331.8 286.5 331.9 291.5 332.2 290.2C332.5 288.9 332.8 280.7 333.1 276.0C333.4 271.3 333.8 262.4 334.0 262.1C334.2 261.8 334.4 269.8 334.6 274.0C334.8 278.2 334.9 282.9 335.2 287.6C335.5 292.3 335.9 297.8 336.2 302.0C336.5 306.2 336.8 309.7 337.2 312.7C337.6 315.7 338.2 317.9 338.7 320.0C339.2 322.1 339.4 323.9 340.2 325.2C341.0 326.5 342.3 327.1 343.4 328.0C344.4 328.9 345.4 329.6 346.5 330.3C347.6 331.1 348.6 331.7 349.7 332.5C350.8 333.3 351.9 334.4 352.8 335.3C353.7 336.2 354.5 337.2 355.3 338.0C356.1 338.8 357.0 339.8 357.8 340.3C358.6 340.8 359.5 340.8 360.3 340.8C361.1 340.8 362.0 340.6 362.8 340.3C363.6 340.0 364.2 339.6 365.0 339.0C365.8 338.4 366.8 337.7 367.3 336.5C367.9 335.3 368.0 333.5 368.3 332.0C368.6 330.5 369.0 327.8 369.3 327.7C369.6 327.6 370.0 330.2 370.3 331.5C370.6 332.8 370.8 334.8 371.3 335.3C371.8 335.8 372.6 334.9 373.3 334.5C374.0 334.1 374.7 333.8 375.3 332.8C375.9 331.8 376.6 330.2 377.2 328.5C377.8 326.8 378.6 324.4 379.1 322.7C379.6 320.9 379.8 319.4 380.1 318.0C380.4 316.6 380.8 314.2 381.1 314.0C381.4 313.8 381.8 315.5 382.0 316.5C382.2 317.5 382.3 319.1 382.4 320.0C382.5 320.9 382.5 323.7 382.8 322.0C383.1 320.3 383.7 313.7 384.0 310.0C384.3 306.3 384.5 304.2 384.7 300.0C384.9 295.8 385.2 290.0 385.4 285.0C385.6 280.0 385.7 275.0 385.9 270.0C386.1 265.0 386.3 260.5 386.5 255.0C386.7 249.5 386.9 243.2 387.2 237.0C387.4 230.8 387.7 224.2 388.0 218.0C388.3 211.8 388.6 205.3 388.8 200.0C389.0 194.7 389.2 191.8 389.4 186.0C389.5 180.2 389.5 172.3 389.7 165.0C389.9 157.7 390.0 148.7 390.3 142.0C390.6 135.3 390.9 126.2 391.2 125.0C391.6 123.8 391.9 129.2 392.3 135.0C392.7 140.8 393.1 150.8 393.5 160.0C393.9 169.2 394.4 180.8 395.0 190.0C395.6 199.2 396.2 207.5 396.8 215.0C397.4 222.5 397.9 228.8 398.5 235.0C399.1 241.2 399.9 246.6 400.4 252.0C400.9 257.4 401.2 262.1 401.6 267.6C402.0 273.1 402.4 279.6 402.8 285.0C403.2 290.4 403.6 295.9 404.1 300.2C404.6 304.4 405.4 307.6 406.0 310.5C406.6 313.4 407.1 315.6 407.9 317.7C408.7 319.8 409.9 321.3 411.0 322.8C412.1 324.3 412.9 325.3 414.2 326.5C415.4 327.7 417.1 328.9 418.5 330.0C419.9 331.1 421.6 332.2 422.9 332.8C424.1 333.4 424.9 333.5 426.0 333.7C427.1 333.9 428.2 334.1 429.2 334.0C430.1 333.9 430.9 333.4 431.7 332.8C432.5 332.2 433.6 331.6 434.2 330.3C434.8 329.0 435.1 327.1 435.5 325.0C435.9 322.9 436.3 320.1 436.7 317.7C437.1 315.3 437.6 312.6 438.0 310.5C438.4 308.4 438.8 306.7 439.2 305.2C439.6 303.7 440.1 301.7 440.5 301.4C440.9 301.1 441.2 302.9 441.5 303.5C441.8 304.1 442.2 305.4 442.5 305.2C442.8 305.0 443.2 303.2 443.5 302.5C443.8 301.8 444.1 300.9 444.5 300.7C444.9 300.5 445.4 300.9 445.8 301.2C446.2 301.5 446.6 301.8 447.0 302.7C447.4 303.6 448.0 305.0 448.5 306.5C449.0 308.0 449.5 309.8 450.1 311.5C450.7 313.2 451.4 315.3 452.0 317.0C452.6 318.7 453.2 320.2 453.8 321.5C454.4 322.8 455.1 324.0 455.7 325.0C456.3 326.0 456.9 326.9 457.6 327.7C458.3 328.5 459.3 329.4 460.1 330.0C460.9 330.6 461.8 331.2 462.6 331.5C463.4 331.8 464.3 331.7 465.1 331.7C465.9 331.7 466.8 331.4 467.6 331.5C468.4 331.6 469.3 331.9 470.1 332.2C470.9 332.5 471.8 332.8 472.6 333.3C473.4 333.8 474.3 334.5 475.1 335.0C475.9 335.5 476.8 336.1 477.6 336.5C478.4 336.9 479.3 337.1 480.1 337.3C480.9 337.5 480.9 337.5 482.6 337.8C484.3 338.1 487.7 338.7 490.2 339.0C492.7 339.3 495.2 339.6 497.7 339.8C500.2 340.0 501.9 340.2 505.2 340.3C508.5 340.4 515.5 340.5 517.7 340.3C520.0 340.1 518.4 339.3 518.7 339.0C519.0 338.7 519.4 338.2 519.7 338.3C520.0 338.4 520.4 339.0 520.7 339.3C521.0 339.6 519.8 340.0 521.7 340.3C523.6 340.6 528.5 340.8 532.0 341.0C535.5 341.2 539.0 341.4 542.8 341.5C546.6 341.6 550.8 341.6 555.0 341.6C559.2 341.6 563.6 341.6 567.8 341.5C572.0 341.4 575.8 341.2 580.0 341.0C584.2 340.8 588.9 340.5 592.9 340.3C596.9 340.1 600.2 339.9 604.0 339.7C607.8 339.5 612.7 339.2 615.5 339.0C618.3 338.8 619.2 338.7 621.0 338.5C622.8 338.3 625.3 338.2 626.5 337.6C627.7 337.0 627.7 335.7 628.2 335.0C628.7 334.3 629.1 333.3 629.5 333.2C629.9 333.1 630.3 334.1 630.7 334.5C631.1 334.9 631.3 335.4 631.8 335.5C632.3 335.6 633.1 335.1 633.8 334.8C634.4 334.5 635.1 334.3 635.7 333.7C636.3 333.1 636.8 331.9 637.3 331.0C637.8 330.1 638.4 328.5 638.9 328.5C639.4 328.5 639.9 330.1 640.5 331.0C641.1 331.9 641.5 333.1 642.3 333.7C643.1 334.3 644.4 334.5 645.5 334.8C646.6 335.1 647.4 335.4 648.8 335.5C650.2 335.6 652.2 335.3 654.0 335.1C655.8 334.9 657.3 334.9 659.3 334.5C661.3 334.1 663.8 333.5 666.0 332.9C668.2 332.3 670.2 331.6 672.4 331.1C674.6 330.6 676.8 330.1 679.0 329.7C681.2 329.3 683.5 328.9 685.5 328.5C687.5 328.1 689.2 327.4 691.0 327.0C692.8 326.6 694.5 326.2 696.0 325.8C697.5 325.4 698.7 325.1 700.0 324.9C701.3 324.7 702.6 324.5 703.8 324.5C705.0 324.5 705.9 324.8 707.0 325.0C708.1 325.2 709.1 325.4 710.4 325.8C711.7 326.2 713.5 327.0 715.0 327.7C716.5 328.4 718.1 329.1 719.5 329.8C720.9 330.5 722.2 331.2 723.5 331.9C724.8 332.5 726.3 333.2 727.4 333.7C728.5 334.2 729.1 334.4 730.0 334.7C730.9 335.0 731.3 335.2 732.6 335.5C733.9 335.8 736.0 336.0 737.8 336.2C739.5 336.4 741.1 336.6 743.1 336.6C745.1 336.6 747.4 336.5 749.6 336.4C751.8 336.3 754.0 336.2 756.2 336.1C758.4 336.0 760.5 335.9 762.7 335.9C764.9 335.8 766.4 335.8 769.3 335.8C772.1 335.8 778.0 335.8 779.8 335.8" fill="none" stroke="#050505" stroke-width="1.8" stroke-linejoin="round" stroke-linecap="round" />
<path d="M261.3 399.9C261.4 398.6 261.6 394.4 261.8 392.0C262.0 389.6 262.2 388.2 262.5 385.4C262.8 382.6 263.2 378.1 263.5 375.0C263.8 371.9 264.1 368.7 264.5 366.6C264.9 364.5 265.5 363.6 266.0 362.5C266.5 361.4 267.0 361.2 267.5 360.3C268.0 359.4 268.4 358.2 268.8 357.0C269.2 355.8 269.6 355.0 270.1 352.8C270.6 350.6 271.4 346.9 272.0 344.0C272.6 341.1 273.4 337.6 273.8 335.3C274.2 333.0 274.4 331.3 274.7 330.0C275.0 328.7 275.2 327.6 275.6 327.7C276.0 327.8 276.5 329.4 276.9 330.5C277.3 331.6 277.7 332.8 278.1 334.0C278.5 335.2 278.8 336.9 279.1 338.0C279.4 339.1 279.6 340.3 280.1 340.3C280.6 340.3 281.4 338.6 282.0 338.0C282.6 337.4 283.3 336.4 283.8 336.5C284.3 336.6 284.6 338.1 285.0 338.5C285.4 338.9 285.9 339.2 286.3 339.0C286.7 338.8 287.1 337.4 287.5 337.0C287.9 336.6 288.4 336.3 288.8 336.5C289.2 336.7 289.7 337.6 290.1 338.0C290.5 338.4 290.9 338.0 291.4 339.0C291.9 340.0 292.6 342.1 293.2 344.0C293.8 345.9 294.5 348.1 295.1 350.3C295.7 352.5 296.4 354.9 297.0 357.0C297.6 359.1 298.3 361.1 298.9 362.8C299.5 364.6 300.2 365.8 300.8 367.5C301.4 369.2 302.1 370.8 302.6 372.9C303.2 375.0 303.6 377.9 304.1 380.0C304.6 382.1 305.2 384.1 305.6 385.4C306.0 386.7 306.3 387.2 306.6 387.8C306.9 388.4 307.1 389.2 307.6 389.1C308.1 389.0 308.9 387.8 309.5 387.0C310.1 386.2 310.7 385.3 311.4 384.1C312.1 382.9 313.1 381.4 313.9 380.0C314.7 378.6 315.8 376.0 316.4 375.4C317.0 374.8 317.2 376.3 317.6 376.5C318.0 376.7 318.4 377.4 318.9 376.6C319.4 375.9 320.2 373.9 320.8 372.0C321.4 370.1 322.2 367.6 322.7 365.3C323.2 363.0 323.6 360.9 324.0 358.0C324.4 355.1 324.8 351.8 325.2 347.8C325.6 343.8 325.9 339.0 326.2 334.0C326.5 329.0 326.9 322.5 327.2 317.7C327.5 312.9 327.9 308.3 328.2 305.0C328.5 301.7 328.9 296.7 329.2 297.7C329.5 298.7 329.8 306.4 330.0 311.0C330.2 315.6 330.4 321.0 330.7 325.2C330.9 329.4 331.2 332.9 331.5 336.0C331.8 339.1 331.9 344.2 332.2 344.0C332.5 343.8 332.9 337.9 333.2 335.0C333.5 332.1 333.9 326.0 334.2 326.5C334.5 327.0 334.8 334.0 335.0 338.0C335.2 342.0 335.4 346.1 335.7 350.3C336.0 354.5 336.4 359.2 336.7 363.0C337.0 366.8 337.2 370.6 337.7 372.9C338.2 375.2 339.0 376.0 339.6 377.0C340.2 378.0 340.7 378.5 341.5 379.1C342.3 379.7 343.6 380.3 344.6 380.7C345.6 381.1 346.6 381.3 347.7 381.6C348.8 381.9 350.2 382.2 351.5 382.4C352.8 382.6 354.1 382.8 355.3 382.9C356.6 382.9 357.8 382.8 359.0 382.7C360.2 382.6 361.8 382.4 362.8 382.1C363.9 381.8 364.5 381.5 365.3 381.0C366.1 380.5 367.2 380.6 367.8 379.1C368.4 377.6 368.5 374.3 368.8 372.0C369.1 369.7 369.4 365.3 369.8 365.3C370.2 365.3 370.6 369.9 371.0 372.0C371.4 374.1 371.7 377.2 372.1 377.9C372.6 378.6 373.2 376.9 373.7 376.2C374.2 375.5 374.4 375.8 375.0 373.8C375.6 371.8 376.7 367.7 377.4 364.1C378.1 360.5 378.7 356.1 379.2 352.1C379.7 348.1 380.0 344.1 380.4 340.1C380.8 336.1 381.2 331.1 381.6 328.1C382.0 325.1 382.4 325.0 382.8 322.0C383.2 319.0 383.7 313.7 384.0 310.0C384.3 306.3 384.5 304.2 384.7 300.0C384.9 295.8 385.2 290.0 385.4 285.0C385.6 280.0 385.7 275.0 385.9 270.0C386.1 265.0 386.3 260.5 386.5 255.0C386.7 249.5 386.9 243.2 387.2 237.0C387.4 230.8 387.7 224.2 388.0 218.0C388.3 211.8 388.6 205.2 388.8 200.0C389.0 194.8 389.2 189.8 389.4 187.0C389.5 184.2 389.6 183.2 389.7 183.2C389.8 183.2 389.9 183.9 390.1 187.0C390.3 190.1 390.6 197.2 390.9 202.0C391.1 206.8 391.3 211.3 391.6 216.0C391.9 220.7 392.3 225.3 392.7 230.0C393.1 234.7 393.4 239.3 393.8 244.0C394.1 248.7 394.4 253.3 394.8 258.0C395.2 262.7 395.6 267.5 395.9 272.0C396.2 276.5 396.4 280.7 396.6 285.0C396.8 289.3 396.9 292.8 397.3 298.0C397.7 303.2 398.5 310.1 399.1 316.1C399.7 322.1 400.3 328.1 400.9 334.1C401.5 340.1 402.1 346.1 402.7 352.1C403.3 358.1 403.9 365.5 404.5 370.1C405.1 374.7 405.7 377.0 406.3 379.5C406.9 382.0 407.6 383.6 408.3 385.0C409.0 386.4 409.5 387.1 410.5 388.2C411.5 389.3 413.2 390.5 414.2 391.5C415.2 392.5 415.9 393.5 416.7 394.2C417.5 394.9 418.4 395.2 419.2 395.5C420.0 395.8 420.9 395.9 421.7 395.9C422.5 395.9 423.4 395.8 424.2 395.5C425.0 395.2 425.9 395.0 426.7 394.2C427.5 393.4 428.4 392.0 429.2 390.5C430.0 389.0 430.9 387.9 431.7 385.4C432.5 382.9 433.4 379.3 434.2 375.5C435.0 371.7 436.0 366.7 436.7 362.8C437.4 358.9 437.9 355.3 438.5 352.0C439.1 348.7 439.5 344.8 440.0 342.8C440.5 340.8 441.1 339.8 441.5 339.8C441.9 339.8 442.1 341.7 442.3 343.0C442.6 344.3 442.8 346.5 443.0 347.8C443.2 349.1 443.4 350.2 443.7 351.0C443.9 351.8 444.1 352.6 444.5 352.8C444.9 353.1 445.4 352.5 445.8 352.5C446.2 352.5 446.6 352.2 447.0 352.8C447.4 353.4 448.0 354.8 448.5 356.0C449.0 357.2 449.5 358.7 450.1 360.3C450.7 361.9 451.4 363.8 452.0 365.5C452.6 367.2 453.2 368.8 453.8 370.4C454.4 372.0 454.9 373.6 455.5 375.0C456.1 376.4 456.6 378.2 457.1 379.1C457.6 380.0 458.1 380.3 458.6 380.6C459.1 380.9 459.4 381.2 460.1 381.1C460.8 381.0 461.8 380.3 462.6 379.8C463.4 379.3 464.4 378.5 465.1 377.9C465.8 377.3 466.4 376.8 467.0 376.3C467.6 375.8 468.3 375.2 468.8 374.9C469.3 374.6 469.7 374.4 470.1 374.3C470.5 374.2 470.9 373.9 471.4 374.1C471.9 374.3 472.5 374.9 473.0 375.5C473.5 376.1 474.1 376.8 474.6 377.9C475.1 379.0 475.6 380.6 476.1 382.0C476.6 383.4 477.1 385.4 477.6 386.6C478.1 387.9 478.5 388.6 478.9 389.5C479.3 390.4 479.6 391.0 480.1 391.7C480.6 392.4 481.4 393.2 482.0 393.7C482.6 394.2 483.1 394.5 483.9 394.9C484.7 395.3 485.9 395.7 487.0 396.0C488.1 396.3 489.3 396.6 490.2 396.8C491.1 396.9 491.6 397.0 492.3 397.1C493.0 397.2 493.7 397.2 494.4 397.3C495.1 397.4 495.8 397.4 496.5 397.4C497.2 397.4 497.9 397.4 498.6 397.5C499.3 397.5 499.9 397.8 500.6 397.7C501.3 397.7 502.1 397.3 502.7 397.2C503.3 397.1 503.8 397.1 504.4 397.2C504.9 397.2 505.5 397.4 506.0 397.4C506.6 397.3 507.1 397.0 507.7 396.9C508.3 396.8 508.8 397.0 509.4 396.9C509.9 396.7 510.5 396.0 511.0 395.9C511.6 395.7 512.1 395.8 512.7 395.9C513.3 396.0 514.0 396.2 514.6 396.4C515.2 396.5 516.0 396.9 516.5 396.7C517.0 396.5 517.1 395.7 517.4 395.2C517.7 394.8 517.9 393.8 518.2 394.0C518.5 394.2 518.9 395.7 519.2 396.4C519.5 397.1 519.7 398.2 520.2 398.3C520.7 398.4 521.5 397.4 522.1 396.9C522.7 396.4 523.4 395.9 524.0 395.5C524.6 395.2 525.1 394.9 525.6 394.7C526.1 394.6 526.4 395.0 527.2 394.8C528.0 394.7 529.5 394.1 530.3 394.0C531.1 394.0 531.5 394.5 532.1 394.7C532.8 394.8 533.4 394.7 534.0 394.7C534.6 394.7 535.3 394.6 535.9 394.7C536.5 394.8 537.3 395.6 537.8 395.6C538.3 395.5 538.5 394.7 538.8 394.5C539.1 394.2 539.5 393.5 539.8 394.1C540.0 394.6 540.1 396.6 540.3 397.7C540.5 398.8 540.6 400.7 540.8 400.6C541.0 400.4 541.2 397.9 541.4 396.9C541.6 395.9 541.4 395.0 542.0 394.4C542.6 393.8 544.0 393.8 545.0 393.5C546.0 393.3 546.9 393.3 547.8 393.0C548.7 392.7 549.5 392.1 550.3 391.7C551.1 391.3 552.2 390.7 552.8 390.6C553.4 390.5 553.6 391.1 554.0 391.3C554.4 391.5 554.7 392.0 555.3 391.9C555.9 391.8 557.0 391.2 557.8 390.7C558.6 390.2 559.7 389.1 560.3 389.0C560.9 388.9 561.1 389.6 561.5 389.8C561.9 390.0 562.5 390.5 562.8 390.2C563.1 390.0 563.3 388.7 563.5 388.0C563.7 387.4 563.8 386.5 564.1 386.4C564.4 386.3 564.9 387.1 565.3 387.3C565.7 387.6 566.2 388.1 566.6 387.9C567.0 387.8 567.2 386.6 567.5 386.2C567.8 385.8 568.0 384.9 568.3 385.5C568.6 386.0 568.9 388.2 569.3 389.4C569.6 390.6 569.9 392.1 570.4 392.8C570.9 393.5 571.7 393.3 572.3 393.4C572.9 393.5 573.5 393.5 574.1 393.4C574.7 393.3 575.4 393.1 576.0 393.0C576.6 392.9 577.3 392.9 577.9 392.8C578.5 392.8 579.2 392.9 579.8 392.7C580.4 392.5 581.0 391.9 581.7 391.9C582.3 391.9 582.9 392.5 583.5 392.4C584.2 392.4 584.8 391.6 585.4 391.5C586.0 391.4 586.6 391.6 587.3 391.6C587.9 391.6 588.5 391.6 589.1 391.4C589.8 391.2 590.4 390.5 591.0 390.4C591.6 390.2 592.3 390.7 592.9 390.6C593.5 390.6 594.1 390.2 594.8 390.0C595.4 389.9 596.0 390.0 596.6 389.9C597.3 389.7 597.9 389.2 598.5 389.0C599.1 388.8 599.8 389.0 600.4 388.9C601.0 388.8 601.7 388.5 602.3 388.5C602.9 388.5 603.6 389.0 604.2 388.9C604.8 388.8 605.5 388.1 606.1 387.9C606.7 387.8 607.4 388.0 608.0 388.0C608.6 388.0 609.2 388.0 609.9 388.0C610.5 387.9 611.1 387.8 611.8 387.6C612.4 387.5 613.0 387.0 613.6 386.8C614.2 386.6 614.8 386.5 615.5 386.5C616.2 386.5 617.0 386.7 617.8 386.8C618.5 386.9 619.3 387.2 620.0 387.0C620.7 386.9 621.1 386.2 621.7 386.0C622.2 385.9 622.8 386.2 623.3 386.1C623.9 386.0 624.4 385.6 625.0 385.4C625.6 385.3 626.2 385.3 626.8 385.0C627.4 384.7 628.1 383.9 628.7 383.7C629.3 383.5 629.9 383.9 630.5 383.7C631.1 383.5 631.8 382.8 632.5 382.5C633.2 382.2 633.8 382.2 634.5 382.1C635.2 381.9 635.8 381.8 636.5 381.6C637.2 381.5 637.8 381.5 638.4 381.3C639.1 381.0 639.7 380.3 640.4 380.1C641.0 379.8 641.8 379.9 642.3 379.7C642.8 379.4 643.0 378.6 643.6 378.5C644.2 378.4 645.5 379.0 646.2 378.9C646.9 378.9 647.4 378.4 648.0 378.1C648.6 377.9 649.1 377.5 649.7 377.3C650.3 377.1 650.9 377.0 651.5 376.7C652.1 376.4 652.7 375.9 653.2 375.7C653.8 375.5 654.4 375.5 655.0 375.3C655.5 375.1 656.1 374.9 656.7 374.5C657.3 374.1 657.9 373.4 658.5 373.0C659.1 372.5 659.6 372.1 660.2 371.8C660.8 371.6 661.4 371.7 662.0 371.4C662.6 371.1 663.1 370.5 663.7 370.1C664.3 369.6 664.8 369.2 665.4 368.8C666.0 368.4 666.5 368.0 667.1 367.6C667.7 367.2 668.3 366.8 668.9 366.4C669.5 365.9 670.0 365.6 670.6 365.1C671.2 364.6 671.8 363.9 672.4 363.4C673.0 362.8 673.6 362.3 674.1 361.7C674.7 361.1 675.3 360.3 675.9 359.8C676.4 359.3 677.0 359.3 677.6 358.8C678.2 358.3 678.8 357.2 679.4 356.6C680.0 356.1 680.5 355.9 681.1 355.5C681.7 355.1 682.3 354.7 682.9 354.2C683.5 353.6 684.1 352.6 684.6 352.1C685.2 351.6 685.8 351.6 686.4 351.1C686.9 350.7 687.5 350.1 688.1 349.6C688.7 349.1 689.4 348.4 690.0 347.9C690.7 347.3 691.3 346.8 692.0 346.2C692.7 345.6 693.3 344.7 694.0 344.1C694.7 343.6 695.2 343.5 696.0 342.9C696.8 342.3 697.7 341.3 698.6 340.6C699.5 340.0 700.6 339.3 701.2 338.9C701.9 338.5 702.1 338.2 702.5 338.0C702.9 337.8 703.3 337.5 703.8 337.6C704.3 337.7 705.1 338.3 705.7 338.8C706.4 339.3 706.9 339.9 707.7 340.8C708.5 341.7 709.5 343.1 710.4 344.3C711.3 345.5 712.0 346.5 713.0 348.1C714.0 349.7 715.2 351.8 716.3 353.8C717.4 355.8 718.3 357.6 719.5 359.9C720.7 362.2 722.2 365.2 723.5 367.8C724.8 370.4 726.2 373.3 727.4 375.6C728.6 377.9 729.5 379.6 730.6 381.6C731.7 383.6 732.9 385.8 733.9 387.4C734.9 389.0 735.7 390.1 736.6 391.3C737.5 392.5 738.4 393.8 739.2 394.7C740.0 395.6 740.6 396.1 741.2 396.6C741.9 397.1 742.4 397.6 743.1 397.9C743.9 398.2 745.1 398.3 745.7 398.5C746.4 398.7 746.6 399.3 747.0 399.2C747.4 399.2 747.9 398.4 748.3 398.2C748.7 398.0 748.9 397.8 749.2 397.9C749.5 398.0 749.8 398.8 750.1 398.8C750.4 398.7 750.7 397.7 751.0 397.7C751.3 397.7 751.6 398.6 752.0 398.6C752.3 398.6 752.6 397.8 753.0 397.7C753.3 397.7 753.6 397.9 753.9 398.1C754.2 398.2 754.6 398.7 754.9 398.7C755.2 398.6 755.5 398.2 755.9 398.0C756.2 397.7 756.5 397.3 756.8 397.1C757.2 397.0 757.5 397.1 757.8 397.0C758.1 396.9 758.5 396.4 758.8 396.4C759.1 396.4 759.4 396.5 759.8 396.8C760.1 397.1 760.4 398.1 760.8 398.4C761.1 398.7 761.4 398.7 761.7 398.6C762.1 398.6 762.4 398.2 762.7 398.0C763.0 397.9 763.4 397.8 763.7 397.6C764.0 397.4 764.4 397.2 764.7 396.9C765.0 396.6 765.4 396.1 765.7 396.0C766.0 395.9 766.4 396.1 766.7 396.3C767.0 396.6 767.4 397.3 767.7 397.7C768.0 398.0 768.3 398.3 768.7 398.3C769.0 398.3 769.3 397.6 769.6 397.6C770.0 397.7 770.3 398.5 770.6 398.7C770.9 398.9 771.2 398.8 771.6 398.7C771.9 398.7 772.2 398.4 772.5 398.3C772.9 398.1 773.2 398.1 773.5 397.9C773.9 397.8 774.2 397.7 774.5 397.6C774.8 397.5 775.1 397.2 775.5 397.3C775.8 397.4 776.1 398.2 776.5 398.3C776.8 398.4 777.1 397.6 777.4 397.6C777.8 397.7 778.1 398.2 778.4 398.4C778.7 398.5 779.0 398.7 779.3 398.6C779.6 398.6 779.9 398.3 780.2 398.1C780.5 397.8 780.8 396.9 781.1 397.1C781.4 397.2 781.9 398.6 782.2 398.9C782.6 399.2 783.0 398.8 783.4 398.9C783.7 399.0 784.3 399.2 784.5 399.3" fill="none" stroke="#7030a6" stroke-width="1.9" stroke-linejoin="round" stroke-linecap="round" />
<path d="M314.5 250.0C314.6 248.8 314.8 245.1 315.0 243.0C315.2 240.9 315.2 239.0 315.5 237.5C315.8 236.0 316.2 234.8 316.5 234.0C316.8 233.2 317.0 233.5 317.5 232.5C318.0 231.5 318.9 229.7 319.5 228.0C320.1 226.3 320.8 225.3 321.2 222.5C321.8 219.7 322.1 215.6 322.5 211.0C322.9 206.4 323.3 201.5 323.8 195.0C324.2 188.5 324.6 179.5 325.0 172.0C325.4 164.5 325.8 157.0 326.2 150.0C326.7 143.0 327.1 135.2 327.5 130.0C327.9 124.8 328.4 119.4 328.8 118.8C329.1 118.1 329.3 122.9 329.6 126.0C329.9 129.1 330.2 133.2 330.5 137.5C330.8 141.8 331.2 147.4 331.5 152.0C331.8 156.6 332.1 161.8 332.3 165.0C332.5 168.2 332.6 173.2 332.8 171.0C333.0 168.8 333.1 157.7 333.4 152.0C333.7 146.3 334.2 137.3 334.5 137.0C334.8 136.7 335.1 144.5 335.4 150.0C335.7 155.5 335.9 162.5 336.2 170.0C336.6 177.5 337.1 187.5 337.5 195.0C337.9 202.5 338.2 209.8 338.8 215.0C339.2 220.2 339.9 223.1 340.5 226.0C341.1 228.9 341.7 230.2 342.5 232.5C343.3 234.8 344.5 237.4 345.5 239.5C346.5 241.6 347.7 242.9 348.8 245.0C349.8 247.1 351.0 249.5 352.0 252.0C353.0 254.5 354.0 257.8 355.0 260.0C356.0 262.2 357.0 263.5 358.0 265.0C359.0 266.5 360.2 267.8 361.0 269.0C361.8 270.2 362.4 271.7 363.0 272.0C363.6 272.3 364.0 271.6 364.5 271.0C365.0 270.4 365.5 269.6 366.0 268.3C366.5 267.1 366.9 265.2 367.3 263.5C367.7 261.8 368.0 261.0 368.3 257.8C368.6 254.6 369.0 247.7 369.3 244.3C369.6 240.9 369.9 237.2 370.2 237.5C370.4 237.8 370.6 243.1 370.8 246.0C371.0 248.9 371.1 252.4 371.3 254.8C371.5 257.2 371.8 259.1 372.0 260.3C372.2 261.6 372.5 262.8 372.8 262.3C373.1 261.8 373.5 259.5 373.9 257.5C374.3 255.5 374.4 254.5 375.0 250.3C375.6 246.1 376.6 238.3 377.3 232.3C378.0 226.3 378.6 220.0 379.2 214.2C379.8 208.4 380.5 203.0 381.1 197.7C381.7 192.4 382.2 187.9 382.6 182.6C383.0 177.3 383.2 171.0 383.5 166.0C383.8 161.0 383.9 157.1 384.1 152.6C384.3 148.1 384.3 144.6 384.6 139.2C384.9 133.8 385.4 126.7 385.9 120.2C386.4 113.7 387.2 106.2 387.6 100.2C388.0 94.2 388.2 89.4 388.5 84.0C388.8 78.6 389.1 72.1 389.4 68.0C389.7 63.9 390.0 61.4 390.2 59.5C390.4 57.6 390.5 56.2 390.8 56.5C391.1 56.8 391.5 58.8 392.0 61.0C392.5 63.2 393.2 66.7 393.8 70.0C394.3 73.3 394.9 77.2 395.5 81.0C396.1 84.8 396.9 89.8 397.5 92.5C398.1 95.2 398.4 95.3 398.8 97.0C399.2 98.7 399.6 99.8 400.0 102.5C400.4 105.2 400.9 109.2 401.3 113.0C401.8 116.8 402.1 119.7 402.7 125.0C403.3 130.3 404.3 137.9 405.1 145.0C405.9 152.1 406.6 160.1 407.4 167.6C408.1 175.1 408.9 183.2 409.6 190.2C410.4 197.2 411.1 204.4 411.9 209.7C412.6 214.9 413.6 218.6 414.1 221.7C414.7 224.8 414.9 226.7 415.2 228.5C415.5 230.3 415.6 232.4 415.9 232.3C416.2 232.2 416.6 229.1 416.9 228.0C417.2 226.9 417.6 225.8 417.9 225.5C418.2 225.2 418.4 225.6 418.7 226.0C418.9 226.4 419.1 226.5 419.4 227.7C419.7 228.9 420.1 231.2 420.5 233.0C420.9 234.8 421.1 236.4 421.7 238.3C422.3 240.2 423.1 242.4 423.9 244.3C424.6 246.2 425.4 249.0 426.2 249.5C426.9 250.0 427.7 248.6 428.4 247.3C429.1 246.1 429.8 242.8 430.4 242.0C431.0 241.2 431.6 242.2 432.2 242.8C432.8 243.4 433.3 245.9 433.7 245.8C434.1 245.7 434.2 243.8 434.5 242.0C434.8 240.2 434.9 238.1 435.2 235.3C435.4 232.5 435.8 228.5 436.0 225.0C436.2 221.5 436.4 218.0 436.7 214.2C436.9 210.4 437.2 206.0 437.5 202.0C437.8 198.0 437.9 193.7 438.2 190.2C438.4 186.7 438.8 183.8 439.0 181.0C439.2 178.2 439.4 175.4 439.7 173.6C439.9 171.8 440.2 170.8 440.5 170.0C440.8 169.2 440.9 168.9 441.2 169.0C441.6 169.1 442.0 170.2 442.3 170.5C442.6 170.8 442.9 171.8 443.2 171.0C443.6 170.2 444.2 167.6 444.7 166.0C445.2 164.4 445.8 161.5 446.2 161.2C446.7 161.0 446.9 163.0 447.2 164.5C447.5 166.0 447.6 167.4 448.0 170.0C448.4 172.6 448.9 176.7 449.3 180.0C449.7 183.3 450.2 187.8 450.5 190.0C450.8 192.2 451.1 192.3 451.3 193.0C451.6 193.7 451.7 194.5 452.0 194.2C452.3 194.0 452.9 192.6 453.3 191.5C453.7 190.4 454.1 189.8 454.5 187.5C454.9 185.2 455.5 180.9 456.0 178.0C456.5 175.1 457.0 171.7 457.5 170.0C458.0 168.3 458.4 168.3 458.8 168.0C459.2 167.7 459.6 167.6 460.0 168.0C460.4 168.4 460.7 169.3 461.0 170.5C461.3 171.7 461.7 172.9 462.0 175.0C462.3 177.1 462.7 180.5 463.0 183.0C463.3 185.5 463.5 188.4 463.8 190.0C464.0 191.6 464.2 192.0 464.5 192.5C464.8 193.0 464.9 194.1 465.2 193.0C465.6 191.9 465.9 189.0 466.3 186.0C466.7 183.0 467.1 179.7 467.5 175.0C467.9 170.3 468.3 163.4 468.7 158.0C469.1 152.6 469.5 146.8 470.0 142.5C470.5 138.2 471.1 135.0 471.6 132.5C472.1 130.0 472.7 127.8 473.2 127.5C473.8 127.2 474.3 129.3 474.8 131.0C475.3 132.7 475.8 134.3 476.2 137.5C476.7 140.7 477.1 145.4 477.5 150.0C477.9 154.6 478.3 159.5 478.8 165.0C479.2 170.5 479.6 177.2 480.0 183.0C480.4 188.8 480.8 194.3 481.2 200.0C481.8 205.7 482.4 212.0 483.0 217.0C483.6 222.0 484.3 226.1 485.0 230.0C485.7 233.9 486.4 237.2 487.0 240.5C487.6 243.8 488.1 247.0 488.9 250.0C489.7 253.0 490.9 256.0 492.0 258.5C493.1 261.0 494.1 263.3 495.2 265.1C496.3 266.9 497.6 268.2 498.8 269.5C500.1 270.8 501.4 271.7 502.7 272.6C504.0 273.5 505.2 274.2 506.5 274.8C507.8 275.4 508.9 275.6 510.2 275.9C511.4 276.2 513.0 276.6 514.0 276.4C515.0 276.2 515.8 274.8 516.5 274.6C517.2 274.4 517.7 275.2 518.3 275.4C518.9 275.6 518.4 275.6 520.2 275.6C522.0 275.6 526.1 275.4 529.0 275.3C531.9 275.2 534.9 275.0 537.8 275.1C540.7 275.2 543.6 275.7 546.5 275.9C549.4 276.1 552.9 276.4 555.3 276.4C557.7 276.3 559.1 275.8 561.0 275.6C562.9 275.4 565.4 275.1 566.6 275.1C567.9 275.1 567.9 275.6 568.5 275.7C569.1 275.8 568.8 276.1 570.4 275.9C572.0 275.7 575.5 275.2 578.0 274.7C580.5 274.2 583.1 273.7 585.4 273.1C587.7 272.5 589.5 272.0 591.6 271.3C593.7 270.6 595.8 269.9 597.9 268.8C600.0 267.8 602.2 266.0 604.0 265.0C605.8 264.0 607.1 264.0 608.6 262.9C610.1 261.8 611.6 260.0 613.0 258.3C614.4 256.6 615.7 254.7 617.1 252.9C618.5 251.1 620.1 249.2 621.5 247.3C622.9 245.4 624.6 243.0 625.7 241.4C626.8 239.8 627.3 238.9 628.0 237.5C628.7 236.1 629.6 234.2 630.0 232.9C630.4 231.6 630.2 230.5 630.4 229.5C630.5 228.5 630.5 227.8 630.9 227.1C631.3 226.4 632.0 225.8 632.6 225.3C633.2 224.8 633.6 225.0 634.3 224.3C634.9 223.6 635.8 222.2 636.5 221.0C637.2 219.8 638.1 218.8 638.6 217.1C639.1 215.4 639.2 212.9 639.4 211.0C639.6 209.1 639.7 206.9 640.0 205.7C640.3 204.5 640.7 204.3 641.1 204.0C641.5 203.7 641.8 203.5 642.3 203.7C642.8 203.9 643.4 204.4 644.0 205.0C644.6 205.6 645.1 206.2 645.7 207.1C646.4 208.0 647.2 209.6 647.9 210.3C648.6 211.0 649.3 211.8 650.0 211.4C650.7 211.0 651.5 209.4 652.2 208.0C652.9 206.6 653.6 204.7 654.3 202.9C655.0 201.2 655.8 199.2 656.5 197.5C657.2 195.8 657.7 194.3 658.6 192.9C659.5 191.5 660.8 190.5 662.0 189.3C663.2 188.1 664.7 187.2 665.7 185.7C666.7 184.1 667.3 182.1 668.0 180.0C668.7 177.9 669.2 176.1 670.0 172.9C670.8 169.7 671.9 164.8 672.9 161.0C673.9 157.2 674.6 153.3 675.7 150.0C676.8 146.7 678.1 143.6 679.3 141.0C680.5 138.4 681.7 136.1 682.9 134.3C684.1 132.5 685.2 131.2 686.4 130.0C687.6 128.8 688.8 127.9 690.0 127.1C691.2 126.3 692.4 125.8 693.6 125.2C694.8 124.6 696.0 124.1 697.1 123.7C698.2 123.3 699.0 123.0 700.0 122.8C701.0 122.6 701.9 122.2 702.9 122.3C703.9 122.4 704.8 122.7 705.8 123.3C706.8 123.9 707.6 124.7 708.6 125.7C709.6 126.7 710.5 127.9 711.5 129.3C712.5 130.7 713.2 132.3 714.3 134.3C715.4 136.3 716.7 138.9 717.9 141.5C719.1 144.1 720.3 146.8 721.4 150.0C722.5 153.2 723.3 156.7 724.3 160.5C725.2 164.3 726.3 168.6 727.1 172.9C727.9 177.2 728.6 181.8 729.3 186.5C730.0 191.2 730.7 196.5 731.4 201.4C732.1 206.3 732.9 211.2 733.6 216.0C734.3 220.8 735.0 225.3 735.7 230.0C736.4 234.7 737.2 239.7 737.9 244.0C738.6 248.3 739.3 252.7 740.0 255.7C740.7 258.7 741.5 260.3 742.2 262.0C742.9 263.7 743.6 264.7 744.3 265.7C745.0 266.7 745.8 267.3 746.5 267.9C747.2 268.5 747.6 268.8 748.6 269.4C749.6 270.0 751.0 270.7 752.2 271.3C753.4 271.9 754.5 272.4 755.7 272.9C756.9 273.4 758.1 273.8 759.3 274.1C760.5 274.4 761.6 274.8 762.9 274.9C764.2 275.0 765.8 274.5 767.2 274.5C768.6 274.5 769.9 274.8 771.4 274.9C772.9 275.0 774.7 275.0 776.4 275.1C778.1 275.2 780.6 275.6 781.4 275.7" fill="none" stroke="#050505" stroke-width="1.9" stroke-linejoin="round" stroke-linecap="round" />
<path d="M264 484.6 H784.3 M386 484.6 V491.6 M518.5 484.6 V491.6 M651 484.6 V491.6 M783.7 484.6 V491.6 M319.75 484.6 V488.6 M452.25 484.6 V488.6 M584.75 484.6 V488.6 M717.4 484.6 V488.6" stroke="#111" stroke-width="1.7" fill="none"/>
<text x="386.5" y="511.4" font-size="16.2" fill="#111"  text-anchor="middle" textLength="40.2" lengthAdjust="spacingAndGlyphs">1000</text>
<text x="518.8" y="511.4" font-size="16.2" fill="#111"  text-anchor="middle" textLength="40.2" lengthAdjust="spacingAndGlyphs">2000</text>
<text x="651.3" y="511.4" font-size="16.2" fill="#111"  text-anchor="middle" textLength="40.2" lengthAdjust="spacingAndGlyphs">3000</text>
<text x="785.8" y="511.4" font-size="16.2" fill="#111"  text-anchor="middle" textLength="40.2" lengthAdjust="spacingAndGlyphs">4000</text>
<text x="464.8" y="537.8" font-size="19.5" font-weight="bold" fill="#111" textLength="181.7" lengthAdjust="spacingAndGlyphs">Wavenumber (cm<tspan font-size="12" dy="-7">-1</tspan><tspan dy="7">)</tspan></text>
<text x="751.6" y="254.5" font-size="15" fill="#050505" font-weight="bold" text-anchor="start" textLength="84.8" lengthAdjust="spacingAndGlyphs">ref/unburn</text>
<text x="750.8" y="325.0" font-size="14.5" fill="#050505" font-weight="bold" text-anchor="start" textLength="82.5" lengthAdjust="spacingAndGlyphs">ref/ 500 &#186;C</text>
<text x="751.3" y="379.5" font-size="14.3" fill="#7030a6" font-weight="bold" text-anchor="start" textLength="44.5" lengthAdjust="spacingAndGlyphs">PFF27</text>
<text x="751.8" y="450.2" font-size="14.3" fill="#0f8216" font-weight="bold" text-anchor="start" textLength="44.8" lengthAdjust="spacingAndGlyphs">PFF12</text>
<text x="5.3" y="16.8" font-size="17.5" fill="#050505" font-weight="bold" text-anchor="start" textLength="12.9" lengthAdjust="spacingAndGlyphs">A</text>
<text x="18.5" y="533.3" font-size="19" fill="#050505" font-weight="bold" text-anchor="start" textLength="11.4" lengthAdjust="spacingAndGlyphs">B</text>
<text transform="translate(340.1 115.8) rotate(-90) scale(1.000 1)" font-size="18" fill="#050505" stroke="#050505" stroke-width="0.4" stroke-linejoin="round" font-weight="bold" textLength="54.6" lengthAdjust="spacingAndGlyphs"><tspan><tspan font-weight="normal">&#957;</tspan></tspan><tspan font-size="11.9" dy="5.0">4</tspan><tspan dy="-5.0" font-size="1">&#8203;</tspan><tspan>(PO</tspan><tspan font-size="11.9" dy="5.0">4</tspan><tspan dy="-5.0" font-size="1">&#8203;</tspan><tspan>)</tspan></text>
<text transform="translate(380.1 89.5) rotate(-90) scale(1.000 1)" font-size="18" fill="#050505" stroke="#050505" stroke-width="0.4" stroke-linejoin="round" font-weight="bold" textLength="54.6" lengthAdjust="spacingAndGlyphs"><tspan><tspan font-weight="normal">&#957;</tspan></tspan><tspan font-size="11.9" dy="5.0">1</tspan><tspan dy="-5.0" font-size="1">&#8203;</tspan><tspan>(PO</tspan><tspan font-size="11.9" dy="5.0">4</tspan><tspan dy="-5.0" font-size="1">&#8203;</tspan><tspan>)</tspan></text>
<text transform="translate(371.0 228.8) rotate(-90) scale(1.000 1)" font-size="18" fill="#050505" stroke="#050505" stroke-width="0.4" stroke-linejoin="round" font-weight="bold" textLength="54.7" lengthAdjust="spacingAndGlyphs"><tspan><tspan font-weight="normal">&#957;</tspan></tspan><tspan font-size="11.9" dy="5.0">2</tspan><tspan dy="-5.0" font-size="1">&#8203;</tspan><tspan>(CO</tspan><tspan font-size="11.9" dy="5.0">3</tspan><tspan dy="-5.0" font-size="1">&#8203;</tspan><tspan>)</tspan></text>
<text transform="translate(453.7 296.0) rotate(-90) scale(1.000 1)" font-size="18.3" fill="#050505" stroke="#050505" stroke-width="0.4" stroke-linejoin="round" font-weight="bold" textLength="54.6" lengthAdjust="spacingAndGlyphs"><tspan><tspan font-weight="normal">&#957;</tspan></tspan><tspan font-size="12.1" dy="5.1">3</tspan><tspan dy="-5.1" font-size="1">&#8203;</tspan><tspan>(CO</tspan><tspan font-size="12.1" dy="5.1">3</tspan><tspan dy="-5.1" font-size="1">&#8203;</tspan><tspan>)</tspan></text>
<text transform="translate(441.5 161.5) rotate(-90) scale(1.000 1)" font-size="18" fill="#050505" stroke="#050505" stroke-width="0.4" stroke-linejoin="round" font-weight="bold" textLength="76.0" lengthAdjust="spacingAndGlyphs"><tspan><tspan font-weight="normal">&#948;</tspan>(CH</tspan><tspan font-size="11.9" dy="5.0">2</tspan><tspan dy="-5.0" font-size="1">&#8203;</tspan><tspan>)</tspan><tspan font-size="11.9" dy="5.0">lipids</tspan><tspan dy="-5.0" font-size="1">&#8203;</tspan></text>
<text transform="translate(464.5 164.0) rotate(-90) scale(1.000 1)" font-size="16" fill="#050505" stroke="#050505" stroke-width="0.4" stroke-linejoin="round" font-weight="bold" textLength="54.0" lengthAdjust="spacingAndGlyphs"><tspan>Amide II</tspan></text>
<text transform="translate(480.8 124.5) rotate(-90) scale(1.000 1)" font-size="16.5" fill="#050505" stroke="#050505" stroke-width="0.4" stroke-linejoin="round" font-weight="bold" textLength="51.0" lengthAdjust="spacingAndGlyphs"><tspan>Amide I</tspan></text>
<text transform="translate(644.8 200.4) rotate(-90) scale(1.000 1)" font-size="17.3" fill="#050505" stroke="#050505" stroke-width="0.4" stroke-linejoin="round" font-weight="bold" textLength="42.2" lengthAdjust="spacingAndGlyphs"><tspan><tspan font-weight="normal">&#957;</tspan>(CH)</tspan></text>
<text transform="translate(682.9 129.3) rotate(-90) scale(1.000 1)" font-size="17.3" fill="#050505" stroke="#050505" stroke-width="0.4" stroke-linejoin="round" font-weight="bold" textLength="71.9" lengthAdjust="spacingAndGlyphs"><tspan><tspan font-weight="normal">&#957;</tspan>(OH)</tspan><tspan font-size="11.4" dy="4.8">water</tspan><tspan dy="-4.8" font-size="1">&#8203;</tspan></text>
<text transform="translate(713.4 117.7) rotate(-90) scale(1.000 1)" font-size="17.3" fill="#050505" stroke="#050505" stroke-width="0.4" stroke-linejoin="round" font-weight="bold" textLength="66.1" lengthAdjust="spacingAndGlyphs"><tspan><tspan font-weight="normal">&#957;</tspan>(OH)</tspan><tspan font-size="11.4" dy="4.8">HAp</tspan><tspan dy="-4.8" font-size="1">&#8203;</tspan></text>
<text transform="translate(199.3 101.6) rotate(-90) scale(1.000 1)" font-size="14.3" fill="#050505" stroke="#050505" stroke-width="0.4" stroke-linejoin="round" font-weight="bold" textLength="62.0" lengthAdjust="spacingAndGlyphs"><tspan>(OH</tspan><tspan font-size="9.4" dy="4.0">lib</tspan><tspan dy="-4.0" font-size="1">&#8203;</tspan><tspan>)</tspan><tspan font-size="9.4" dy="4.0">HAp</tspan><tspan dy="-4.0" font-size="1">&#8203;</tspan></text>
<path d="M145.0 588.3C145.4 588.0 147.5 587.2 148.3 586.0C149.1 584.8 151.0 580.8 151.7 578.3C152.4 575.8 153.4 566.9 154.0 565.0C154.6 563.1 156.1 564.0 156.7 561.7C157.3 559.4 158.7 546.4 159.3 545.0C159.9 543.6 161.1 551.4 161.7 550.0C162.3 548.6 163.7 535.6 164.3 533.3C164.9 531.0 166.1 530.4 166.7 530.7C167.3 531.0 168.7 536.2 169.3 536.0C169.9 535.8 171.2 529.4 171.7 529.3C172.2 529.2 172.9 535.1 173.3 535.0C173.7 534.9 174.5 527.3 175.0 528.3C175.5 529.3 176.7 541.6 177.3 543.3C177.9 545.0 179.4 541.3 180.0 542.7C180.6 544.1 182.1 552.8 182.7 555.0C183.3 557.2 184.5 560.1 185.0 561.7C185.5 563.3 186.7 568.3 187.3 568.3C187.9 568.3 189.4 560.9 190.0 561.7C190.6 562.5 192.1 572.5 192.7 575.0C193.3 577.5 194.5 583.0 195.0 583.3C195.5 583.6 196.7 576.7 197.3 577.3C197.9 577.9 199.3 586.0 200.0 588.3C200.7 590.6 202.5 595.0 203.3 596.7C204.1 598.5 206.0 602.9 206.7 603.3C207.4 603.7 208.7 598.8 209.3 600.0C209.9 601.2 211.0 611.2 211.7 613.3C212.4 615.4 214.2 617.1 215.0 618.3C215.8 619.5 217.5 621.7 218.3 623.3C219.1 624.9 220.9 629.6 221.7 631.7C222.5 633.8 224.2 640.3 225.0 641.7C225.8 643.1 227.6 641.4 228.3 643.3C229.0 645.2 230.2 656.2 230.7 658.3C231.2 660.4 231.8 661.7 232.3 661.7C232.8 661.7 234.4 659.7 235.0 658.3C235.6 656.9 236.7 652.3 237.3 650.0C237.9 647.7 239.5 639.9 240.0 638.3C240.5 636.7 241.5 635.5 242.0 636.7C242.5 637.9 243.8 647.1 244.3 648.3C244.8 649.5 246.2 647.5 246.7 646.7C247.2 645.9 247.9 641.1 248.3 641.7C248.7 642.3 249.5 652.7 250.0 651.7C250.5 650.7 252.1 635.8 252.7 633.3C253.3 630.8 254.5 629.5 255.0 630.7C255.5 631.9 256.7 643.0 257.3 643.3C257.9 643.6 259.4 634.8 260.0 633.3C260.6 631.8 261.7 630.5 262.3 630.7C262.9 630.9 264.4 635.3 265.0 635.0C265.6 634.7 267.2 629.3 267.7 628.3C268.2 627.3 268.5 626.3 269.0 626.7C269.5 627.1 271.1 631.4 271.7 631.7C272.3 632.0 273.6 628.5 274.3 629.3C275.0 630.1 276.7 636.5 277.3 638.3C277.9 640.1 278.8 645.6 279.3 645.0C279.8 644.4 281.2 634.5 281.7 633.3C282.2 632.1 283.4 633.4 284.0 635.0C284.6 636.6 286.1 644.2 286.7 646.7C287.3 649.2 288.6 656.1 289.3 656.7C290.0 657.3 291.6 651.7 292.3 651.7C293.0 651.7 294.4 656.3 295.0 656.7C295.6 657.1 296.7 656.0 297.3 655.0C297.9 654.0 299.5 649.5 300.0 648.3C300.5 647.1 301.5 644.2 302.0 645.0C302.5 645.8 303.8 653.1 304.3 655.0C304.8 656.9 305.5 662.1 306.0 661.7C306.5 661.3 307.8 653.1 308.3 651.7C308.8 650.3 310.1 649.6 310.7 650.0C311.3 650.4 312.7 654.5 313.3 655.0C313.9 655.5 315.4 653.4 316.0 654.0C316.6 654.6 317.7 657.9 318.3 660.0C318.9 662.1 320.4 669.4 321.0 671.7C321.6 674.0 322.7 678.1 323.3 680.0C323.9 681.9 325.4 687.5 326.0 688.3C326.6 689.1 327.8 687.0 328.3 686.7C328.8 686.4 330.1 684.8 330.7 686.0C331.3 687.2 332.7 696.0 333.3 696.7C333.9 697.4 335.4 692.5 336.0 691.7C336.6 690.9 337.7 689.0 338.3 690.0C338.9 691.0 340.4 698.4 341.0 700.0C341.6 701.6 342.7 703.6 343.3 703.3C343.9 703.0 345.4 697.1 346.0 697.3C346.6 697.5 348.0 704.7 348.7 705.0C349.4 705.3 351.0 700.1 351.7 700.0C352.4 699.9 353.6 704.3 354.3 704.0C355.0 703.7 356.6 698.0 357.3 697.3C358.0 696.6 359.4 698.8 360.0 698.3C360.6 697.8 362.1 692.5 362.7 692.7C363.3 692.9 364.3 698.4 365.0 700.0C365.7 701.6 367.5 705.4 368.3 706.0C369.1 706.6 371.0 704.5 371.7 705.0C372.4 705.5 373.6 710.3 374.3 710.0C375.0 709.7 376.6 702.9 377.3 702.7C378.0 702.5 379.3 707.5 380.0 708.3C380.7 709.1 382.5 709.6 383.3 709.3C384.1 709.0 385.9 705.9 386.7 706.0C387.5 706.1 389.2 710.5 390.0 710.0C390.8 709.5 392.6 701.9 393.3 701.7C394.0 701.5 395.4 707.4 396.0 708.3C396.6 709.2 397.7 709.7 398.3 709.3C398.9 708.9 400.3 704.7 401.0 705.0C401.7 705.3 403.3 710.5 404.0 711.7C404.7 712.9 406.1 714.2 406.7 715.0C407.3 715.8 408.7 718.7 409.3 718.3C409.9 717.9 411.1 711.8 411.7 711.7C412.3 711.6 413.6 716.8 414.3 717.3C415.0 717.8 416.6 715.6 417.3 716.0C418.0 716.4 419.3 721.0 420.0 720.7C420.7 720.4 422.6 714.3 423.3 713.3C424.0 712.2 425.1 710.7 425.7 711.7C426.3 712.7 427.7 720.5 428.3 721.7C428.9 722.9 430.1 722.7 430.7 721.7C431.3 720.7 432.7 714.9 433.3 713.3C433.9 711.7 435.1 706.9 435.7 707.7C436.3 708.5 437.7 717.8 438.3 720.0C438.9 722.2 440.0 725.8 440.7 726.7C441.4 727.6 443.3 727.7 444.0 727.3C444.7 726.9 446.1 724.5 446.7 723.3C447.3 722.1 448.6 718.2 449.3 717.3C450.0 716.4 451.6 714.8 452.3 715.7C453.0 716.6 454.4 723.2 455.0 725.0C455.6 726.8 456.8 729.9 457.3 730.7C457.8 731.5 458.8 732.2 459.3 731.7C459.8 731.2 461.1 727.4 461.7 726.7C462.3 726.0 463.7 726.8 464.3 726.0C464.9 725.2 466.1 721.0 466.7 720.0C467.3 719.0 468.7 718.5 469.3 717.3C469.9 716.1 471.2 711.8 471.7 710.0C472.2 708.2 473.4 703.5 474.0 701.7C474.6 700.0 476.1 696.3 476.7 695.0C477.3 693.7 478.4 690.7 479.0 690.7C479.6 690.7 481.1 694.6 481.7 695.0C482.3 695.4 483.7 693.6 484.3 694.0C484.9 694.4 486.1 696.8 486.7 698.3C487.3 699.8 488.6 705.0 489.3 706.7C490.0 708.5 491.6 711.7 492.3 713.3C493.0 714.9 494.4 719.0 495.0 720.0C495.6 721.0 496.7 721.7 497.3 721.7C497.9 721.7 499.4 721.2 500.0 720.0C500.6 718.8 502.1 712.9 502.7 711.7C503.3 710.5 504.5 711.0 505.0 710.0C505.5 709.0 506.7 703.9 507.3 703.3C507.9 702.7 509.4 705.4 510.0 705.0C510.6 704.6 512.0 700.8 512.7 700.0C513.4 699.2 515.1 698.6 516.0 698.3C516.9 698.0 519.1 697.2 520.0 697.3C520.9 697.4 522.6 698.8 523.3 699.3C524.0 699.8 525.3 702.2 526.0 701.7C526.7 701.2 528.5 696.3 529.3 695.0C530.1 693.7 531.9 691.0 532.7 690.7C533.5 690.4 535.3 692.8 536.0 692.7C536.7 692.6 537.7 689.5 538.3 690.0C538.9 690.5 540.4 695.3 541.0 696.7C541.6 698.1 542.8 702.7 543.3 701.7C543.8 700.7 545.2 690.4 545.7 688.3C546.2 686.2 546.9 683.4 547.3 684.0C547.7 684.6 548.8 691.2 549.3 693.3C549.8 695.4 551.2 701.3 551.7 701.7C552.2 702.1 553.4 696.5 554.0 696.7C554.6 696.9 556.1 702.1 556.7 703.3C557.3 704.5 558.7 706.8 559.3 706.7C559.9 706.6 561.2 702.3 561.7 702.7C562.2 703.1 563.4 708.6 564.0 710.0C564.6 711.4 566.1 714.0 566.7 715.0C567.3 716.0 568.7 718.9 569.3 718.3C569.9 717.7 571.1 709.8 571.7 710.0C572.3 710.2 573.7 719.2 574.3 720.0C574.9 720.8 576.1 716.3 576.7 716.7C577.3 717.1 578.7 722.2 579.3 723.3C579.9 724.4 581.3 725.0 582.0 726.0C582.7 727.0 584.4 732.0 585.0 731.7C585.6 731.4 586.8 725.0 587.3 723.3C587.8 721.6 588.8 717.3 589.3 717.3C589.8 717.3 591.2 722.1 591.7 723.3C592.2 724.5 593.4 726.3 594.0 727.3C594.6 728.3 596.1 731.8 596.7 731.7C597.3 731.6 598.7 727.9 599.3 726.7C599.9 725.5 601.2 722.7 601.7 721.7C602.2 720.7 603.5 719.5 604.0 718.3C604.5 717.1 605.5 712.4 606.0 711.7C606.5 711.0 607.8 711.7 608.3 712.7C608.8 713.7 610.2 718.6 610.7 720.0C611.2 721.4 612.2 724.8 612.7 725.0C613.2 725.2 614.5 721.9 615.0 721.7C615.5 721.5 616.7 723.8 617.3 723.3C617.9 722.8 619.4 718.5 620.0 717.3C620.6 716.1 622.1 713.6 622.7 712.7C623.3 711.8 624.5 709.0 625.0 709.3C625.5 709.6 626.7 715.1 627.3 715.0C627.9 714.9 629.4 709.5 630.0 708.3C630.6 707.1 632.2 704.8 632.7 705.0C633.2 705.2 633.8 710.2 634.3 710.0C634.8 709.8 636.1 703.7 636.7 703.3C637.3 702.9 638.7 706.5 639.3 706.7C639.9 706.9 641.2 704.4 641.7 705.0C642.2 705.6 643.5 710.0 644.0 711.7C644.5 713.5 645.6 718.3 646.0 720.0C646.4 721.7 647.2 726.4 647.7 726.0C648.2 725.6 649.5 718.6 650.0 716.7C650.5 714.8 651.7 710.6 652.3 710.0C652.9 709.4 654.4 712.2 655.0 711.7C655.6 711.2 656.8 705.6 657.3 706.0C657.8 706.4 658.8 713.0 659.3 715.0C659.8 717.0 661.2 722.7 661.7 723.3C662.2 723.9 663.4 721.0 664.0 720.0C664.6 719.0 666.1 716.4 666.7 715.0C667.3 713.6 668.5 709.4 669.0 708.3C669.5 707.2 670.5 705.3 671.0 705.7C671.5 706.1 672.7 710.2 673.3 711.7C673.9 713.2 675.4 717.1 676.0 718.3C676.6 719.5 677.8 721.0 678.3 721.7C678.8 722.4 679.6 724.4 680.0 724.0C680.4 723.6 681.3 719.9 681.7 718.3C682.1 716.7 682.8 711.7 683.3 710.7C683.8 709.7 685.4 710.1 685.7 710.0" fill="none" stroke="#0f8216" stroke-width="1.85" stroke-linejoin="round" stroke-linecap="round" />
<path d="M138.3 691.7C138.5 692.0 139.5 694.2 140.0 694.0C140.5 693.8 141.8 692.0 142.3 690.0C142.8 688.0 143.6 679.5 144.0 676.7C144.4 673.9 145.5 667.4 146.0 666.0C146.5 664.6 147.8 666.1 148.3 665.0C148.8 663.9 150.1 659.2 150.7 656.7C151.3 654.2 152.7 645.6 153.3 643.3C153.9 641.0 155.1 638.1 155.7 636.7C156.3 635.3 157.7 633.5 158.3 631.7C158.9 630.0 160.1 623.6 160.7 621.7C161.3 619.8 162.7 616.0 163.3 615.0C163.9 614.0 165.3 614.0 166.0 613.3C166.7 612.6 168.4 609.3 169.0 609.3C169.6 609.3 170.5 612.9 171.0 613.3C171.5 613.7 172.8 612.1 173.3 612.7C173.8 613.3 175.1 616.9 175.7 618.3C176.3 619.7 177.6 623.4 178.3 625.0C179.0 626.6 180.9 630.0 181.7 631.7C182.5 633.5 184.3 637.9 185.0 640.0C185.7 642.1 187.0 648.4 187.7 650.0C188.4 651.6 190.0 651.9 190.7 653.3C191.4 654.7 192.6 660.0 193.3 661.7C194.0 663.5 195.9 666.9 196.7 668.3C197.5 669.7 199.3 671.7 200.0 673.3C200.7 674.9 202.0 679.6 202.7 681.7C203.4 683.8 205.0 689.8 205.7 691.7C206.4 693.6 207.7 696.7 208.3 698.3C208.9 699.9 210.4 704.3 211.0 705.0C211.6 705.7 212.7 703.4 213.3 704.0C213.9 704.6 215.4 708.3 216.0 710.0C216.6 711.7 217.6 716.4 218.3 718.3C219.0 720.2 220.9 725.3 221.7 726.7C222.5 728.1 224.2 729.9 225.0 730.0C225.8 730.1 227.5 727.4 228.3 727.3C229.1 727.2 230.9 729.4 231.7 729.3C232.5 729.2 234.2 726.4 235.0 726.7C235.8 727.0 237.5 730.9 238.3 731.7C239.1 732.5 240.9 733.7 241.7 733.3C242.5 732.9 244.2 728.8 245.0 728.3C245.8 727.8 247.5 729.5 248.3 729.3C249.1 729.1 250.9 726.8 251.7 726.7C252.5 726.6 254.3 728.9 255.0 728.3C255.7 727.7 257.0 722.2 257.7 721.7C258.4 721.2 260.3 723.4 261.0 724.0C261.7 724.6 262.6 725.8 263.3 726.7C264.0 727.6 265.9 730.3 266.7 731.7C267.5 733.1 269.2 738.1 270.0 738.3C270.8 738.5 272.5 733.3 273.3 733.3C274.1 733.3 275.8 737.2 276.7 738.3C277.6 739.4 279.7 741.9 280.7 742.7C281.7 743.5 284.0 744.9 285.0 745.0C286.0 745.1 288.3 743.3 289.3 743.3C290.3 743.3 292.4 744.8 293.3 745.0C294.2 745.2 296.5 745.6 297.3 745.0C298.1 744.4 299.3 741.3 300.0 740.0C300.7 738.7 302.5 735.0 303.3 734.0C304.1 733.0 306.0 731.4 306.7 731.7C307.4 732.0 308.6 735.3 309.3 736.7C310.0 738.1 311.6 741.7 312.3 743.3C313.0 744.9 314.4 748.2 315.0 750.0C315.6 751.8 316.7 756.4 317.3 758.3C317.9 760.2 319.3 765.1 320.0 766.7C320.7 768.3 322.6 770.7 323.3 771.7C324.0 772.7 325.4 774.8 326.0 775.0C326.6 775.2 327.8 772.7 328.3 773.3C328.8 773.9 330.0 779.0 330.7 780.0C331.4 781.0 333.2 781.9 334.0 781.7C334.8 781.5 336.6 778.3 337.3 778.3C338.0 778.3 339.3 780.8 340.0 781.7C340.7 782.6 342.4 785.0 343.3 786.0C344.2 787.0 346.4 789.2 347.3 790.0C348.2 790.8 349.8 792.6 350.7 792.7C351.6 792.8 353.9 790.9 355.0 790.7C356.1 790.5 358.8 790.9 360.0 790.7C361.2 790.5 364.0 789.4 365.0 789.3C366.0 789.2 367.5 790.2 368.3 790.0C369.1 789.8 370.9 787.4 371.7 787.3C372.5 787.2 374.2 788.6 375.0 789.3C375.8 790.0 377.5 792.9 378.3 793.3C379.1 793.7 380.9 793.2 381.7 792.7C382.5 792.2 384.2 789.4 385.0 789.3C385.8 789.2 387.5 791.0 388.3 791.7C389.1 792.4 390.9 794.3 391.7 795.0C392.5 795.7 394.2 796.5 395.0 797.3C395.8 798.1 397.5 801.5 398.3 801.7C399.1 801.9 400.9 800.0 401.7 799.3C402.5 798.6 404.2 796.3 405.0 796.0C405.8 795.7 407.5 796.2 408.3 796.7C409.1 797.2 410.9 799.1 411.7 800.0C412.5 800.9 414.2 803.3 415.0 804.0C415.8 804.7 417.5 806.2 418.3 806.0C419.1 805.8 420.9 802.9 421.7 802.7C422.5 802.5 424.2 804.0 425.0 804.0C425.8 804.0 427.5 802.4 428.3 802.7C429.1 803.0 430.9 806.2 431.7 806.7C432.5 807.2 434.2 807.5 435.0 807.3C435.8 807.1 437.5 805.0 438.3 805.0C439.1 805.0 440.9 806.7 441.7 807.3C442.5 807.9 444.2 809.6 445.0 810.0C445.8 810.4 447.5 810.5 448.3 810.7C449.1 810.9 450.9 811.7 451.7 811.7C452.5 811.7 454.3 810.8 455.0 811.0C455.7 811.2 456.7 813.3 457.3 813.3C457.9 813.3 459.3 811.3 460.0 810.7C460.7 810.1 462.6 809.0 463.3 808.3C464.0 807.6 465.3 805.3 466.0 805.0C466.7 804.7 468.5 806.0 469.3 806.0C470.1 806.0 471.9 805.0 472.7 805.0C473.5 805.0 475.2 806.5 476.0 806.0C476.8 805.5 478.5 801.5 479.3 800.7C480.1 799.9 481.9 799.4 482.7 799.3C483.5 799.2 485.2 800.9 486.0 800.0C486.8 799.1 488.5 793.2 489.3 791.7C490.1 790.2 491.9 788.5 492.7 787.3C493.5 786.1 495.3 782.8 496.0 781.7C496.7 780.7 498.3 778.1 499.0 778.3C499.7 778.5 501.0 781.9 501.7 783.3C502.4 784.7 504.2 789.7 505.0 790.7C505.8 791.7 507.5 791.9 508.3 791.7C509.1 791.5 511.0 789.3 511.7 789.3C512.4 789.3 513.4 791.8 514.0 791.7C514.6 791.6 516.0 788.6 516.7 788.3C517.4 788.0 519.2 789.2 520.0 789.0C520.8 788.8 522.5 787.6 523.3 786.7C524.1 785.8 525.9 782.1 526.7 781.7C527.5 781.3 529.2 783.7 530.0 783.3C530.8 782.9 532.5 778.7 533.3 778.3C534.1 777.9 535.9 780.1 536.7 780.0C537.5 779.9 539.2 777.4 540.0 777.3C540.8 777.2 542.5 779.4 543.3 779.3C544.1 779.2 545.9 776.8 546.7 776.7C547.5 776.6 549.2 778.4 550.0 778.3C550.8 778.2 552.4 776.4 553.3 776.0C554.2 775.6 556.5 774.7 557.3 775.0C558.1 775.3 559.3 777.7 560.0 778.3C560.7 778.9 562.5 779.9 563.3 780.0C564.1 780.1 566.0 778.9 566.7 779.3C567.4 779.7 568.5 781.7 569.0 783.3C569.5 784.9 570.3 791.2 570.7 793.3C571.1 795.4 572.2 800.9 572.7 801.7C573.2 802.5 574.5 800.8 575.0 800.0C575.5 799.2 576.7 795.4 577.3 795.0C577.9 794.6 579.3 796.3 580.0 796.7C580.7 797.1 582.6 798.4 583.3 798.3C584.0 798.2 585.4 795.9 586.0 796.0C586.6 796.1 588.1 798.4 588.7 799.3C589.3 800.2 590.5 803.6 591.0 804.0C591.5 804.4 592.7 802.6 593.3 802.7C593.9 802.8 595.3 804.3 596.0 805.0C596.7 805.7 598.3 808.5 599.0 808.3C599.7 808.1 601.1 804.9 601.7 803.3C602.3 801.7 603.4 796.1 604.0 795.0C604.6 793.9 606.1 793.5 606.7 794.0C607.3 794.5 608.7 798.8 609.3 799.3C609.9 799.8 611.1 799.2 611.7 798.3C612.3 797.4 613.7 793.0 614.3 791.7C614.9 790.4 616.1 787.4 616.7 787.3C617.3 787.2 618.7 790.9 619.3 790.7C619.9 790.5 621.2 787.2 621.7 786.0C622.2 784.8 623.5 781.0 624.0 780.0C624.5 779.0 625.5 776.9 626.0 777.3C626.5 777.7 627.8 782.2 628.3 783.3C628.8 784.4 630.1 786.1 630.7 786.7C631.3 787.3 632.7 787.6 633.3 788.3C633.9 789.0 635.4 792.7 636.0 792.7C636.6 792.7 637.8 789.4 638.3 788.3C638.8 787.2 640.1 783.7 640.7 783.3C641.3 782.9 642.7 785.5 643.3 785.0C643.9 784.5 645.4 779.5 646.0 779.3C646.6 779.1 647.8 782.4 648.3 783.3C648.8 784.2 650.1 787.0 650.7 786.7C651.3 786.4 652.7 780.9 653.3 780.7C653.9 780.5 655.2 783.8 655.7 785.0C656.2 786.2 657.2 789.9 657.7 790.7C658.2 791.5 659.3 791.9 660.0 791.7C660.7 791.5 662.5 789.4 663.3 789.3C664.1 789.2 665.9 790.8 666.7 790.7C667.5 790.6 669.3 788.1 670.0 788.3C670.7 788.5 672.1 791.9 672.7 792.7C673.3 793.5 674.5 795.3 675.0 795.0C675.5 794.7 676.7 791.0 677.3 790.0C677.9 789.0 679.4 787.1 680.0 786.7C680.6 786.3 682.0 786.9 682.7 786.7C683.4 786.5 685.4 785.2 685.7 785.0" fill="none" stroke="#050505" stroke-width="1.85" stroke-linejoin="round" stroke-linecap="round" />
<path d="M133.3 790.0C133.5 792.7 134.6 808.8 135.0 813.3C135.4 817.8 136.3 825.6 136.7 828.3C137.1 831.0 137.9 837.7 138.3 836.7C138.7 835.7 139.6 822.7 140.0 820.0C140.4 817.3 141.2 813.9 141.7 813.3C142.2 812.7 143.7 816.2 144.3 815.0C144.9 813.8 146.2 806.6 146.7 803.3C147.2 800.0 148.5 788.3 149.0 786.7C149.5 785.1 150.3 789.0 150.7 790.0C151.1 791.0 152.3 796.6 152.7 795.0C153.1 793.4 153.8 780.8 154.3 776.7C154.8 772.6 156.2 761.2 156.7 760.0C157.2 758.8 158.5 767.5 159.0 766.7C159.5 765.9 160.5 756.9 161.0 753.3C161.5 749.7 162.7 738.5 163.1 736.0C163.5 733.5 163.9 731.8 164.1 732.0C164.3 732.2 164.7 736.4 165.0 738.0C165.3 739.6 166.1 745.9 166.4 745.5C166.7 745.1 167.4 736.9 167.8 735.0C168.2 733.1 169.4 728.8 169.8 728.8C170.2 728.8 170.9 732.5 171.2 735.0C171.5 737.5 172.3 747.9 172.7 750.0C173.1 752.1 174.5 753.3 175.0 753.3C175.5 753.3 176.8 749.8 177.3 750.0C177.8 750.2 178.8 753.1 179.3 755.0C179.8 756.9 181.2 764.4 181.7 766.7C182.2 769.0 183.5 773.1 184.0 775.0C184.5 776.9 185.5 781.4 186.0 783.3C186.5 785.2 187.8 790.1 188.3 791.7C188.8 793.3 190.1 796.5 190.7 796.7C191.3 796.9 192.8 793.3 193.3 793.3C193.8 793.3 194.5 797.5 195.0 796.7C195.5 795.9 196.8 786.3 197.3 786.7C197.8 787.1 198.6 795.7 199.0 800.0C199.4 804.3 200.6 820.2 201.0 823.3C201.4 826.4 202.3 826.9 202.7 826.7C203.1 826.5 203.9 821.3 204.3 821.7C204.7 822.1 205.5 828.2 206.0 830.0C206.5 831.8 207.8 836.3 208.3 836.7C208.8 837.1 209.5 832.5 210.0 833.3C210.5 834.1 211.7 841.7 212.3 843.3C212.9 844.9 214.4 846.5 215.0 846.7C215.6 846.9 216.8 844.0 217.3 845.0C217.8 846.0 218.9 855.0 219.3 855.0C219.7 855.0 220.5 845.2 221.0 845.0C221.5 844.8 222.7 851.2 223.3 853.3C223.9 855.4 225.4 861.4 226.0 863.3C226.6 865.2 227.7 868.8 228.3 870.0C228.9 871.2 230.4 871.9 231.0 873.3C231.6 874.7 232.7 880.3 233.3 881.7C233.9 883.1 235.4 885.0 236.0 885.0C236.6 885.0 237.8 881.9 238.3 881.7C238.8 881.5 240.1 883.7 240.7 883.3C241.3 882.9 242.6 878.5 243.3 878.3C244.0 878.1 245.9 882.1 246.7 881.7C247.5 881.3 249.3 876.8 250.0 875.0C250.7 873.2 251.7 867.5 252.3 866.7C252.9 865.9 254.4 868.6 255.0 868.3C255.6 868.0 257.1 864.0 257.7 864.0C258.3 864.0 259.3 868.6 260.0 868.3C260.7 868.0 262.6 863.0 263.3 861.7C264.0 860.4 265.4 857.1 266.0 857.3C266.6 857.5 267.7 861.6 268.3 863.3C268.9 865.0 270.4 870.9 271.0 871.7C271.6 872.5 272.8 871.0 273.3 870.0C273.8 869.0 275.1 864.7 275.7 863.3C276.3 861.9 277.7 857.7 278.3 857.7C278.9 857.7 280.1 862.2 280.7 863.3C281.3 864.3 282.7 865.5 283.3 866.7C283.9 867.9 285.1 873.5 285.7 873.3C286.3 873.1 287.7 865.2 288.3 865.0C288.9 864.8 290.1 869.8 290.7 871.7C291.3 873.6 292.6 879.6 293.3 881.7C294.0 883.8 296.0 890.3 296.7 889.3C297.4 888.3 298.5 876.7 299.0 873.3C299.5 869.9 300.5 860.8 301.0 860.0C301.5 859.2 302.8 866.3 303.3 866.7C303.8 867.1 305.1 865.0 305.7 863.3C306.3 861.5 307.8 853.7 308.3 851.7C308.8 849.7 309.8 845.2 310.3 846.0C310.8 846.8 311.8 855.5 312.3 858.3C312.8 861.1 313.8 867.5 314.3 870.0C314.8 872.5 316.1 878.1 316.7 880.0C317.3 881.9 318.7 885.1 319.3 886.7C319.9 888.3 321.0 892.5 321.7 893.3C322.4 894.1 324.2 892.5 325.0 893.3C325.8 894.1 327.6 897.7 328.3 900.0C329.0 902.3 330.2 910.8 330.7 913.3C331.2 915.8 332.2 922.5 332.7 921.7C333.2 920.9 334.5 908.6 335.0 906.7C335.5 904.8 336.3 903.8 336.7 905.0C337.1 906.2 338.2 914.8 338.7 916.7C339.2 918.6 340.2 921.9 340.7 921.7C341.2 921.5 342.7 914.8 343.3 915.0C343.9 915.2 345.5 921.7 346.0 923.3C346.5 924.9 347.2 928.1 347.7 928.3C348.2 928.5 350.0 925.6 350.7 925.0C351.4 924.4 353.2 923.9 354.0 923.3C354.8 922.7 356.6 920.8 357.3 920.0C358.0 919.2 359.4 915.9 360.0 916.3C360.6 916.7 361.7 923.6 362.3 923.6C362.9 923.6 364.4 918.0 365.0 916.7C365.6 915.4 366.7 912.1 367.3 912.7C367.9 913.3 369.4 921.4 370.0 921.7C370.6 922.0 371.7 916.6 372.3 915.0C372.9 913.4 374.4 908.5 375.0 908.3C375.6 908.1 376.7 912.5 377.3 913.3C377.9 914.1 379.4 914.1 380.0 915.0C380.6 915.9 382.0 919.9 382.7 920.7C383.4 921.5 385.0 922.4 385.7 921.7C386.4 921.0 387.7 916.4 388.3 915.0C388.9 913.6 390.1 909.8 390.7 910.0C391.3 910.2 392.7 916.3 393.3 916.7C393.9 917.1 395.1 914.3 395.7 913.3C396.3 912.3 397.7 907.9 398.3 908.3C398.9 908.7 400.1 914.8 400.7 916.7C401.3 918.6 402.7 923.5 403.3 925.0C403.9 926.5 405.1 929.7 405.7 929.3C406.3 928.9 407.7 923.0 408.3 921.7C408.9 920.4 410.1 918.0 410.7 918.3C411.3 918.6 412.7 925.0 413.3 924.0C413.9 923.0 415.4 910.5 416.0 910.0C416.6 909.5 417.7 917.9 418.3 920.0C418.9 922.1 420.4 928.7 421.0 928.3C421.6 927.9 422.8 918.5 423.3 916.7C423.8 914.9 425.1 911.9 425.7 912.7C426.3 913.5 427.7 921.7 428.3 923.3C428.9 924.9 430.3 926.2 431.0 926.0C431.7 925.8 433.3 922.6 434.0 921.7C434.7 920.8 436.1 917.9 436.7 918.3C437.3 918.7 438.7 924.6 439.3 925.0C439.9 925.4 441.2 921.1 441.7 921.7C442.2 922.3 443.4 928.6 444.0 930.0C444.6 931.4 446.1 933.7 446.7 933.3C447.3 932.9 448.7 927.2 449.3 926.7C449.9 926.2 451.1 929.1 451.7 929.3C452.3 929.5 453.7 929.5 454.3 928.3C454.9 927.1 456.2 920.1 456.7 919.3C457.2 918.5 458.4 921.6 459.0 921.7C459.6 921.8 461.0 920.1 461.7 920.0C462.4 919.9 464.3 921.9 465.0 920.7C465.7 919.5 466.7 912.4 467.3 910.0C467.9 907.6 469.4 901.5 470.0 900.0C470.6 898.5 472.2 897.9 472.7 897.3C473.2 896.7 473.9 894.8 474.3 895.0C474.7 895.2 475.6 899.9 476.0 899.3C476.4 898.7 477.2 892.8 477.7 890.0C478.2 887.2 479.5 877.0 480.0 875.0C480.5 873.0 481.3 871.7 481.7 872.7C482.1 873.7 482.9 880.7 483.3 883.3C483.7 885.9 484.5 893.4 485.0 895.0C485.5 896.6 486.7 896.2 487.3 896.7C487.9 897.2 489.4 898.9 490.0 899.3C490.6 899.7 492.1 899.5 492.7 900.0C493.3 900.5 494.4 902.4 495.0 903.3C495.6 904.2 497.1 906.4 497.7 907.3C498.3 908.2 499.4 910.8 500.0 910.7C500.6 910.6 502.1 908.0 502.7 906.7C503.3 905.4 504.5 899.7 505.0 899.3C505.5 898.9 506.8 902.4 507.3 903.3C507.8 904.2 508.8 907.9 509.3 907.3C509.8 906.7 511.2 899.9 511.7 898.3C512.2 896.7 513.4 894.3 514.0 893.3C514.6 892.3 516.1 890.6 516.7 890.0C517.3 889.4 518.7 888.7 519.3 888.3C519.9 887.9 521.2 886.3 521.7 886.7C522.2 887.1 523.4 892.3 524.0 891.7C524.6 891.1 526.1 883.5 526.7 881.7C527.3 880.0 528.5 877.0 529.0 876.7C529.5 876.4 530.5 879.5 531.0 879.3C531.5 879.1 532.7 876.5 533.3 875.0C533.9 873.5 535.4 867.3 536.0 866.7C536.6 866.1 537.8 870.2 538.3 870.0C538.8 869.8 540.2 866.2 540.7 865.0C541.2 863.8 542.2 859.4 542.7 860.0C543.2 860.6 544.5 868.4 545.0 870.0C545.5 871.6 546.8 874.8 547.3 874.0C547.8 873.2 548.9 865.2 549.3 863.3C549.7 861.4 550.6 856.9 551.0 857.7C551.4 858.5 552.2 867.6 552.7 870.0C553.2 872.4 554.5 876.9 555.0 878.3C555.5 879.7 556.8 880.5 557.3 881.7C557.8 882.9 558.6 888.5 559.0 888.3C559.4 888.1 560.5 881.3 561.0 880.0C561.5 878.7 562.8 877.3 563.3 877.3C563.8 877.3 565.2 878.8 565.7 880.0C566.2 881.2 567.2 886.9 567.7 887.3C568.2 887.7 569.5 884.7 570.0 883.3C570.5 881.9 571.7 875.0 572.3 875.0C572.9 875.0 574.4 881.6 575.0 883.3C575.6 885.0 576.8 888.8 577.3 889.3C577.8 889.8 578.8 886.1 579.3 887.3C579.8 888.5 581.2 897.5 581.7 900.0C582.2 902.5 582.8 907.7 583.3 908.3C583.8 908.9 585.3 905.6 586.0 905.0C586.7 904.4 588.5 903.7 589.3 903.3C590.1 902.9 591.9 902.2 592.7 901.7C593.5 901.2 595.4 901.0 596.0 899.3C596.6 897.6 597.3 888.9 597.7 887.3C598.1 885.7 598.8 884.7 599.3 886.0C599.8 887.3 601.2 897.8 601.7 898.3C602.2 898.8 603.5 891.0 604.0 890.0C604.5 889.0 605.5 888.3 606.0 889.3C606.5 890.3 607.8 897.6 608.3 898.3C608.8 899.0 610.1 896.0 610.7 895.0C611.3 894.0 612.7 891.6 613.3 890.0C613.9 888.4 615.4 882.9 616.0 881.7C616.6 880.5 617.8 879.5 618.3 879.3C618.8 879.1 619.5 880.5 620.0 880.0C620.5 879.5 622.0 876.6 622.5 875.0C623.0 873.4 624.0 867.8 624.5 866.0C625.0 864.2 626.3 861.3 626.7 860.0C627.1 858.7 627.8 854.2 628.3 855.0C628.8 855.8 630.1 864.8 630.7 866.7C631.3 868.6 632.7 870.3 633.3 871.7C633.9 873.1 635.4 877.2 636.0 878.3C636.6 879.3 637.6 880.8 638.3 880.7C639.0 880.6 640.9 878.5 641.7 877.3C642.5 876.1 644.3 871.0 645.0 870.0C645.7 869.0 647.1 868.3 647.7 868.3C648.3 868.3 649.4 870.8 650.0 870.0C650.6 869.2 652.1 861.7 652.7 861.7C653.3 861.7 654.5 868.6 655.0 870.0C655.5 871.4 656.7 873.3 657.3 873.3C657.9 873.3 659.3 870.7 660.0 870.0C660.7 869.3 662.6 867.4 663.3 867.3C664.0 867.2 665.4 869.6 666.0 869.3C666.6 869.0 667.8 863.8 668.3 865.0C668.8 866.2 669.6 877.1 670.0 880.0C670.4 882.9 671.2 890.2 671.7 890.0C672.2 889.8 673.4 881.0 674.0 878.3C674.6 875.6 676.1 869.4 676.7 866.7C677.3 864.0 678.7 855.4 679.3 855.0C679.9 854.6 681.2 862.9 681.7 863.3C682.2 863.7 682.8 858.4 683.3 858.3C683.8 858.2 685.7 862.2 686.0 862.7" fill="none" stroke="#0a68c8" stroke-width="1.85" stroke-linejoin="round" stroke-linecap="round" />
<path d="M88.3 937.1 H686.5 M88.3 937.1 V943.6 M221.6 937.1 V943.6 M353.8 937.1 V943.6 M486 937.1 V943.6 M618.5 937.1 V943.6 M154.6 937.1 V940.3000000000001 M287.9 937.1 V940.3000000000001 M420 937.1 V940.3000000000001 M552.3 937.1 V940.3000000000001 M684.8 937.1 V940.3000000000001" stroke="#111" stroke-width="1.7" fill="none"/>
<text x="88.3" y="963.8" font-size="16" fill="#1a1a1a"  text-anchor="middle" textLength="9.5" lengthAdjust="spacingAndGlyphs">0</text>
<text x="221.6" y="963.8" font-size="16" fill="#1a1a1a"  text-anchor="middle" textLength="38.5" lengthAdjust="spacingAndGlyphs">1000</text>
<text x="353.8" y="963.8" font-size="16" fill="#1a1a1a"  text-anchor="middle" textLength="38.5" lengthAdjust="spacingAndGlyphs">2000</text>
<text x="486.0" y="963.8" font-size="16" fill="#1a1a1a"  text-anchor="middle" textLength="38.5" lengthAdjust="spacingAndGlyphs">3000</text>
<text x="618.5" y="963.8" font-size="16" fill="#1a1a1a"  text-anchor="middle" textLength="38.5" lengthAdjust="spacingAndGlyphs">4000</text>
<text x="335" y="990" font-size="19.5" font-weight="bold" fill="#111" textLength="183.5" lengthAdjust="spacingAndGlyphs">Wavenumber (cm<tspan font-size="12" dy="-7">-1</tspan><tspan dy="7">)</tspan></text>
<text x="672.2" y="697.3" font-size="14.5" fill="#0f8216" font-weight="bold" text-anchor="start" textLength="44.7" lengthAdjust="spacingAndGlyphs">PFF12</text>
<text x="671.7" y="776.7" font-size="14.5" font-weight="bold" fill="#050505" textLength="78.3" lengthAdjust="spacingAndGlyphs">ref/500 <tspan font-size="9.5" dy="-4.6">0</tspan><tspan dy="4.6">C</tspan></text>
<text x="671.8" y="846.7" font-size="14.5" fill="#0a68c8" font-weight="bold" text-anchor="start" textLength="44.5" lengthAdjust="spacingAndGlyphs">PFF27</text>
<text transform="translate(171.4 723.0) rotate(-90) scale(1.000 1)" font-size="18.2" fill="#050505" stroke="#050505" stroke-width="0.4" stroke-linejoin="round" font-weight="bold" textLength="70.0" lengthAdjust="spacingAndGlyphs"><tspan>(OH</tspan><tspan font-size="12.0" dy="5.1">lib</tspan><tspan dy="-5.1" font-size="1">&#8203;</tspan><tspan>)</tspan><tspan font-size="12.0" dy="5.1">HAp</tspan><tspan dy="-5.1" font-size="1">&#8203;</tspan></text>
<text transform="translate(276.4 851.0) rotate(-90) scale(1.000 1)" font-size="17.3" fill="#050505" stroke="#050505" stroke-width="0.4" stroke-linejoin="round" font-weight="bold" textLength="76.2" lengthAdjust="spacingAndGlyphs"><tspan><tspan font-weight="normal">&#948;</tspan>(CH</tspan><tspan font-size="11.4" dy="4.8">2</tspan><tspan dy="-4.8" font-size="1">&#8203;</tspan><tspan>)</tspan><tspan font-size="11.4" dy="4.8">lipids</tspan><tspan dy="-4.8" font-size="1">&#8203;</tspan></text>
<text transform="translate(310.0 839.0) rotate(-90) scale(1.000 1)" font-size="18" fill="#050505" stroke="#050505" stroke-width="0.4" stroke-linejoin="round" font-weight="bold" textLength="53.3" lengthAdjust="spacingAndGlyphs"><tspan>protein</tspan></text>
<text transform="translate(326.0 835.7) rotate(-90) scale(1.000 1)" font-size="13.4" fill="#050505" stroke="#050505" stroke-width="0.4" stroke-linejoin="round" font-weight="bold" textLength="49.0" lengthAdjust="spacingAndGlyphs"><tspan>collagen</tspan></text>
<text transform="translate(486.0 867.1) rotate(-90) scale(1.000 1)" font-size="17.3" fill="#050505" stroke="#050505" stroke-width="0.4" stroke-linejoin="round" font-weight="bold" textLength="41.3" lengthAdjust="spacingAndGlyphs"><tspan><tspan font-weight="normal">&#957;</tspan>(CH)</tspan></text>
<text transform="translate(555.4 853.3) rotate(-90) scale(1.000 1)" font-size="17.3" fill="#050505" stroke="#050505" stroke-width="0.4" stroke-linejoin="round" font-weight="bold" textLength="64.8" lengthAdjust="spacingAndGlyphs"><tspan><tspan font-weight="normal">&#957;</tspan>(OH)</tspan><tspan font-size="11.4" dy="4.8">HAp</tspan><tspan dy="-4.8" font-size="1">&#8203;</tspan></text>
</svg>
</body></html>
